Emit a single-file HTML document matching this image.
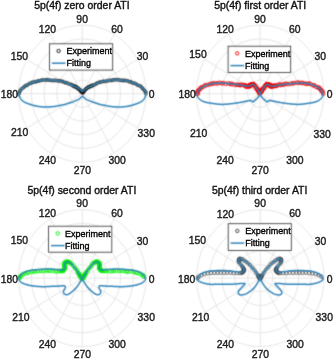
<!DOCTYPE html><html><head><meta charset="utf-8"><style>html,body{margin:0;padding:0;background:#fff;width:334px;height:360px;overflow:hidden}svg{display:block}</style></head><body><svg width="334" height="360" viewBox="0 0 334 360" font-family="&quot;Liberation Sans&quot;, Arial, Helvetica, sans-serif"><defs><filter id="b" x="0" y="0" width="334" height="360" filterUnits="userSpaceOnUse" color-interpolation-filters="sRGB"><feConvolveMatrix order="3" kernelMatrix="1 4 1 4 16 4 1 4 1" divisor="36" edgeMode="duplicate"/></filter></defs><g filter="url(#b)"><rect width="334" height="360" fill="#fff"/><g fill="none" stroke="#e2e2e2" stroke-width="0.9"><ellipse cx="82.3" cy="93.7" rx="12.75" ry="13.71"/><ellipse cx="82.3" cy="93.7" rx="25.50" ry="27.41"/><ellipse cx="82.3" cy="93.7" rx="38.25" ry="41.12"/><ellipse cx="82.3" cy="93.7" rx="51.00" ry="54.82"/><ellipse cx="82.3" cy="93.7" rx="63.75" ry="68.53"/><line x1="146.05" y1="93.70" x2="18.55" y2="93.70"/><line x1="137.51" y1="59.43" x2="27.09" y2="127.97"/><line x1="114.18" y1="34.35" x2="50.42" y2="153.05"/><line x1="82.30" y1="25.17" x2="82.30" y2="162.23"/><line x1="50.43" y1="34.35" x2="114.17" y2="153.05"/><line x1="27.09" y1="59.43" x2="137.51" y2="127.97"/></g><g fill="none" stroke="#141414" stroke-width="0.7"><circle cx="18.62" cy="94.33" r="1.45"/><circle cx="19.11" cy="92.92" r="1.45"/><circle cx="19.92" cy="91.18" r="1.45"/><circle cx="20.35" cy="90.45" r="1.45"/><circle cx="21.56" cy="88.79" r="1.45"/><circle cx="23.17" cy="87.81" r="1.45"/><circle cx="24.25" cy="86.79" r="1.45"/><circle cx="25.43" cy="85.67" r="1.45"/><circle cx="26.72" cy="85.41" r="1.45"/><circle cx="28.02" cy="84.57" r="1.45"/><circle cx="29.57" cy="83.41" r="1.45"/><circle cx="31.11" cy="83.18" r="1.45"/><circle cx="32.27" cy="82.22" r="1.45"/><circle cx="34.14" cy="82.02" r="1.45"/><circle cx="35.50" cy="81.82" r="1.45"/><circle cx="37.01" cy="81.35" r="1.45"/><circle cx="38.36" cy="80.89" r="1.45"/><circle cx="39.97" cy="80.75" r="1.45"/><circle cx="41.82" cy="80.02" r="1.45"/><circle cx="42.85" cy="79.98" r="1.45"/><circle cx="45.00" cy="80.04" r="1.45"/><circle cx="46.34" cy="79.88" r="1.45"/><circle cx="47.81" cy="79.92" r="1.45"/><circle cx="49.21" cy="80.06" r="1.45"/><circle cx="51.01" cy="80.33" r="1.45"/><circle cx="52.58" cy="80.43" r="1.45"/><circle cx="54.23" cy="80.59" r="1.45"/><circle cx="55.60" cy="80.15" r="1.45"/><circle cx="57.33" cy="80.90" r="1.45"/><circle cx="58.94" cy="80.84" r="1.45"/><circle cx="60.33" cy="80.84" r="1.45"/><circle cx="61.91" cy="81.49" r="1.45"/><circle cx="62.98" cy="81.54" r="1.45"/><circle cx="64.75" cy="82.47" r="1.45"/><circle cx="65.66" cy="82.72" r="1.45"/><circle cx="67.30" cy="82.85" r="1.45"/><circle cx="68.64" cy="83.99" r="1.45"/><circle cx="70.48" cy="84.18" r="1.45"/><circle cx="71.60" cy="84.75" r="1.45"/><circle cx="72.73" cy="85.40" r="1.45"/><circle cx="73.72" cy="86.22" r="1.45"/><circle cx="74.17" cy="86.52" r="1.45"/><circle cx="74.65" cy="86.12" r="1.45"/><circle cx="75.46" cy="86.33" r="1.45"/><circle cx="75.76" cy="86.86" r="1.45"/><circle cx="76.58" cy="86.96" r="1.45"/><circle cx="76.75" cy="87.81" r="1.45"/><circle cx="77.55" cy="88.31" r="1.45"/><circle cx="78.60" cy="88.42" r="1.45"/><circle cx="78.82" cy="88.98" r="1.45"/><circle cx="79.40" cy="89.43" r="1.45"/><circle cx="79.76" cy="89.85" r="1.45"/><circle cx="80.44" cy="90.18" r="1.45"/><circle cx="80.40" cy="90.67" r="1.45"/><circle cx="80.58" cy="90.70" r="1.45"/><circle cx="81.33" cy="91.11" r="1.45"/><circle cx="81.27" cy="91.02" r="1.45"/><circle cx="81.42" cy="91.70" r="1.45"/><circle cx="81.37" cy="92.00" r="1.45"/><circle cx="82.07" cy="91.95" r="1.45"/><circle cx="82.31" cy="92.53" r="1.45"/><circle cx="82.57" cy="92.73" r="1.45"/><circle cx="82.84" cy="92.83" r="1.45"/><circle cx="82.58" cy="92.07" r="1.45"/><circle cx="83.30" cy="92.38" r="1.45"/><circle cx="83.23" cy="91.75" r="1.45"/><circle cx="83.71" cy="91.38" r="1.45"/><circle cx="83.79" cy="91.10" r="1.45"/><circle cx="84.09" cy="90.97" r="1.45"/><circle cx="84.28" cy="90.56" r="1.45"/><circle cx="84.93" cy="89.98" r="1.45"/><circle cx="85.19" cy="90.07" r="1.45"/><circle cx="85.43" cy="89.30" r="1.45"/><circle cx="86.21" cy="88.92" r="1.45"/><circle cx="86.31" cy="88.60" r="1.45"/><circle cx="87.29" cy="87.84" r="1.45"/><circle cx="87.62" cy="87.56" r="1.45"/><circle cx="88.54" cy="87.27" r="1.45"/><circle cx="89.17" cy="86.75" r="1.45"/><circle cx="89.38" cy="86.82" r="1.45"/><circle cx="90.37" cy="86.43" r="1.45"/><circle cx="90.52" cy="85.95" r="1.45"/><circle cx="91.45" cy="85.72" r="1.45"/><circle cx="92.53" cy="85.80" r="1.45"/><circle cx="93.07" cy="84.99" r="1.45"/><circle cx="94.67" cy="84.74" r="1.45"/><circle cx="96.05" cy="83.89" r="1.45"/><circle cx="96.99" cy="83.13" r="1.45"/><circle cx="98.88" cy="82.49" r="1.45"/><circle cx="100.00" cy="82.16" r="1.45"/><circle cx="101.46" cy="81.86" r="1.45"/><circle cx="103.27" cy="81.32" r="1.45"/><circle cx="104.15" cy="81.41" r="1.45"/><circle cx="106.33" cy="81.17" r="1.45"/><circle cx="107.59" cy="80.92" r="1.45"/><circle cx="109.52" cy="80.22" r="1.45"/><circle cx="110.89" cy="80.50" r="1.45"/><circle cx="112.36" cy="80.16" r="1.45"/><circle cx="113.60" cy="79.95" r="1.45"/><circle cx="115.20" cy="79.71" r="1.45"/><circle cx="116.95" cy="79.85" r="1.45"/><circle cx="118.65" cy="79.70" r="1.45"/><circle cx="120.29" cy="80.20" r="1.45"/><circle cx="121.88" cy="80.43" r="1.45"/><circle cx="123.41" cy="80.33" r="1.45"/><circle cx="124.34" cy="80.59" r="1.45"/><circle cx="126.07" cy="80.49" r="1.45"/><circle cx="127.91" cy="80.97" r="1.45"/><circle cx="129.27" cy="81.75" r="1.45"/><circle cx="130.86" cy="81.81" r="1.45"/><circle cx="132.07" cy="82.68" r="1.45"/><circle cx="133.71" cy="83.19" r="1.45"/><circle cx="135.10" cy="83.36" r="1.45"/><circle cx="136.65" cy="84.43" r="1.45"/><circle cx="137.85" cy="85.19" r="1.45"/><circle cx="139.68" cy="85.96" r="1.45"/><circle cx="140.97" cy="86.29" r="1.45"/><circle cx="142.06" cy="87.89" r="1.45"/><circle cx="142.79" cy="88.63" r="1.45"/><circle cx="143.95" cy="89.98" r="1.45"/><circle cx="144.98" cy="91.23" r="1.45"/><circle cx="145.90" cy="92.24" r="1.45"/><circle cx="145.82" cy="93.80" r="1.45"/></g><path d="M82.50,91.70 L82.69,91.53 L82.93,91.31 L83.21,91.04 L83.53,90.74 L83.88,90.43 L84.25,90.11 L84.62,89.79 L85.00,89.50 L85.39,89.21 L85.80,88.91 L86.24,88.61 L86.69,88.31 L87.14,88.01 L87.60,87.72 L88.06,87.45 L88.50,87.20 L88.94,86.97 L89.39,86.76 L89.83,86.57 L90.28,86.39 L90.72,86.21 L91.16,86.04 L91.59,85.87 L92.00,85.70 L92.39,85.53 L92.77,85.37 L93.13,85.22 L93.48,85.07 L93.84,84.92 L94.21,84.76 L94.59,84.59 L95.00,84.40 L95.44,84.19 L95.90,83.96 L96.37,83.72 L96.86,83.48 L97.35,83.23 L97.84,83.00 L98.32,82.79 L98.80,82.60 L99.28,82.44 L99.77,82.30 L100.27,82.18 L100.76,82.08 L101.24,81.98 L101.70,81.88 L102.12,81.79 L102.50,81.70 L102.82,81.61 L103.07,81.53 L103.29,81.45 L103.48,81.38 L103.68,81.31 L103.90,81.24 L104.17,81.17 L104.50,81.10 L104.90,81.02 L105.35,80.95 L105.83,80.87 L106.34,80.79 L106.88,80.71 L107.42,80.64 L107.96,80.57 L108.50,80.50 L109.04,80.44 L109.59,80.38 L110.15,80.32 L110.72,80.27 L111.29,80.22 L111.86,80.17 L112.43,80.13 L113.00,80.10 L113.56,80.07 L114.12,80.05 L114.68,80.03 L115.24,80.01 L115.80,80.00 L116.36,80.00 L116.93,80.00 L117.50,80.00 L118.08,80.01 L118.67,80.02 L119.26,80.04 L119.85,80.06 L120.44,80.09 L121.03,80.12 L121.62,80.16 L122.20,80.20 L122.78,80.24 L123.36,80.29 L123.95,80.34 L124.53,80.40 L125.10,80.46 L125.66,80.53 L126.19,80.61 L126.70,80.70 L127.18,80.80 L127.63,80.91 L128.06,81.03 L128.47,81.16 L128.87,81.29 L129.28,81.42 L129.68,81.56 L130.10,81.70 L130.52,81.84 L130.95,81.98 L131.37,82.12 L131.79,82.27 L132.22,82.42 L132.64,82.57 L133.07,82.73 L133.50,82.90 L133.93,83.07 L134.35,83.23 L134.78,83.40 L135.21,83.57 L135.64,83.75 L136.08,83.95 L136.53,84.16 L137.00,84.40 L137.49,84.66 L138.01,84.95 L138.55,85.25 L139.09,85.57 L139.63,85.90 L140.15,86.23 L140.65,86.57 L141.10,86.90 L141.52,87.24 L141.92,87.59 L142.30,87.95 L142.66,88.31 L143.00,88.67 L143.31,89.02 L143.62,89.37 L143.90,89.70 L144.16,90.02 L144.41,90.33 L144.63,90.64 L144.83,90.94 L145.02,91.23 L145.19,91.52 L145.35,91.81 L145.50,92.10 L145.64,92.38 L145.79,92.64 L145.92,92.90 L146.03,93.16 L146.12,93.42 L146.19,93.69 L146.21,93.98 L146.20,94.30 L146.14,94.65 L146.02,95.02 L145.88,95.42 L145.70,95.83 L145.50,96.23 L145.30,96.64 L145.10,97.03 L144.90,97.40 L144.71,97.75 L144.53,98.10 L144.34,98.43 L144.14,98.76 L143.94,99.08 L143.71,99.40 L143.47,99.70 L143.20,100.00 L142.91,100.29 L142.59,100.57 L142.26,100.85 L141.91,101.12 L141.54,101.38 L141.17,101.63 L140.79,101.87 L140.40,102.10 L140.01,102.32 L139.62,102.52 L139.22,102.71 L138.81,102.89 L138.38,103.06 L137.94,103.24 L137.48,103.42 L137.00,103.60 L136.49,103.79 L135.95,103.98 L135.39,104.18 L134.82,104.38 L134.24,104.57 L133.65,104.75 L133.07,104.93 L132.50,105.10 L131.94,105.26 L131.38,105.41 L130.81,105.56 L130.25,105.71 L129.69,105.84 L129.12,105.97 L128.56,106.09 L128.00,106.20 L127.44,106.30 L126.88,106.39 L126.31,106.47 L125.75,106.55 L125.19,106.62 L124.62,106.68 L124.06,106.74 L123.50,106.80 L122.94,106.86 L122.38,106.91 L121.81,106.96 L121.25,107.01 L120.69,107.04 L120.12,107.07 L119.56,107.09 L119.00,107.10 L118.44,107.09 L117.88,107.07 L117.31,107.04 L116.75,106.99 L116.19,106.95 L115.62,106.90 L115.06,106.85 L114.50,106.80 L113.94,106.76 L113.40,106.72 L112.86,106.69 L112.31,106.65 L111.76,106.61 L111.20,106.55 L110.61,106.48 L110.00,106.40 L109.35,106.29 L108.67,106.17 L107.97,106.03 L107.25,105.88 L106.53,105.73 L105.83,105.58 L105.15,105.43 L104.50,105.30 L103.89,105.18 L103.30,105.07 L102.74,104.97 L102.19,104.87 L101.64,104.77 L101.10,104.66 L100.56,104.54 L100.00,104.40 L99.44,104.25 L98.88,104.09 L98.31,103.92 L97.75,103.74 L97.19,103.56 L96.62,103.38 L96.06,103.19 L95.50,103.00 L94.94,102.81 L94.38,102.62 L93.81,102.43 L93.25,102.24 L92.69,102.04 L92.12,101.83 L91.56,101.62 L91.00,101.40 L90.43,101.17 L89.83,100.93 L89.23,100.68 L88.64,100.43 L88.06,100.17 L87.50,99.92 L86.98,99.66 L86.50,99.40 L86.07,99.14 L85.67,98.86 L85.29,98.58 L84.95,98.30 L84.63,98.03 L84.33,97.76 L84.06,97.52 L83.80,97.30 L83.56,97.10 L83.35,96.91 L83.15,96.73 L82.98,96.57 L82.83,96.42 L82.70,96.29 L82.59,96.19 L82.50,96.10 M82.50,91.70 L82.31,91.53 L82.07,91.31 L81.79,91.04 L81.47,90.74 L81.12,90.43 L80.75,90.11 L80.38,89.79 L80.00,89.50 L79.61,89.21 L79.20,88.91 L78.76,88.61 L78.31,88.31 L77.86,88.01 L77.40,87.72 L76.94,87.45 L76.50,87.20 L76.06,86.97 L75.61,86.76 L75.17,86.57 L74.72,86.39 L74.28,86.21 L73.84,86.04 L73.41,85.87 L73.00,85.70 L72.61,85.53 L72.23,85.37 L71.87,85.22 L71.52,85.07 L71.16,84.92 L70.79,84.76 L70.41,84.59 L70.00,84.40 L69.56,84.19 L69.10,83.96 L68.63,83.72 L68.14,83.48 L67.65,83.23 L67.16,83.00 L66.68,82.79 L66.20,82.60 L65.72,82.44 L65.23,82.30 L64.73,82.18 L64.24,82.08 L63.76,81.98 L63.30,81.88 L62.88,81.79 L62.50,81.70 L62.18,81.61 L61.93,81.53 L61.71,81.45 L61.52,81.38 L61.32,81.31 L61.10,81.24 L60.83,81.17 L60.50,81.10 L60.10,81.02 L59.65,80.95 L59.17,80.87 L58.66,80.79 L58.12,80.71 L57.58,80.64 L57.04,80.57 L56.50,80.50 L55.96,80.44 L55.41,80.38 L54.85,80.32 L54.28,80.27 L53.71,80.22 L53.14,80.17 L52.57,80.13 L52.00,80.10 L51.44,80.07 L50.88,80.05 L50.32,80.03 L49.76,80.01 L49.20,80.00 L48.64,80.00 L48.07,80.00 L47.50,80.00 L46.92,80.01 L46.33,80.02 L45.74,80.04 L45.15,80.06 L44.56,80.09 L43.97,80.12 L43.38,80.16 L42.80,80.20 L42.22,80.24 L41.64,80.29 L41.05,80.34 L40.47,80.40 L39.90,80.46 L39.34,80.53 L38.81,80.61 L38.30,80.70 L37.82,80.80 L37.37,80.91 L36.94,81.03 L36.53,81.16 L36.13,81.29 L35.72,81.42 L35.32,81.56 L34.90,81.70 L34.48,81.84 L34.05,81.98 L33.63,82.12 L33.21,82.27 L32.78,82.42 L32.36,82.57 L31.93,82.73 L31.50,82.90 L31.07,83.07 L30.65,83.23 L30.22,83.40 L29.79,83.57 L29.36,83.75 L28.92,83.95 L28.47,84.16 L28.00,84.40 L27.51,84.66 L26.99,84.95 L26.45,85.25 L25.91,85.57 L25.37,85.90 L24.85,86.23 L24.35,86.57 L23.90,86.90 L23.48,87.24 L23.08,87.59 L22.70,87.95 L22.34,88.31 L22.00,88.67 L21.69,89.02 L21.38,89.37 L21.10,89.70 L20.84,90.02 L20.59,90.33 L20.37,90.64 L20.17,90.94 L19.98,91.23 L19.81,91.52 L19.65,91.81 L19.50,92.10 L19.36,92.38 L19.21,92.64 L19.08,92.90 L18.97,93.16 L18.88,93.42 L18.81,93.69 L18.79,93.98 L18.80,94.30 L18.86,94.65 L18.98,95.02 L19.12,95.42 L19.30,95.83 L19.50,96.23 L19.70,96.64 L19.90,97.03 L20.10,97.40 L20.29,97.75 L20.47,98.10 L20.66,98.43 L20.86,98.76 L21.06,99.08 L21.29,99.40 L21.53,99.70 L21.80,100.00 L22.09,100.29 L22.41,100.57 L22.74,100.85 L23.09,101.12 L23.46,101.38 L23.83,101.63 L24.21,101.87 L24.60,102.10 L24.99,102.32 L25.38,102.52 L25.78,102.71 L26.19,102.89 L26.62,103.06 L27.06,103.24 L27.52,103.42 L28.00,103.60 L28.51,103.79 L29.05,103.98 L29.61,104.18 L30.18,104.38 L30.76,104.57 L31.35,104.75 L31.93,104.93 L32.50,105.10 L33.06,105.26 L33.62,105.41 L34.19,105.56 L34.75,105.71 L35.31,105.84 L35.88,105.97 L36.44,106.09 L37.00,106.20 L37.56,106.30 L38.12,106.39 L38.69,106.47 L39.25,106.55 L39.81,106.62 L40.38,106.68 L40.94,106.74 L41.50,106.80 L42.06,106.86 L42.62,106.91 L43.19,106.96 L43.75,107.01 L44.31,107.04 L44.88,107.07 L45.44,107.09 L46.00,107.10 L46.56,107.09 L47.12,107.07 L47.69,107.04 L48.25,106.99 L48.81,106.95 L49.38,106.90 L49.94,106.85 L50.50,106.80 L51.06,106.76 L51.60,106.72 L52.14,106.69 L52.69,106.65 L53.24,106.61 L53.80,106.55 L54.39,106.48 L55.00,106.40 L55.65,106.29 L56.33,106.17 L57.03,106.03 L57.75,105.88 L58.47,105.73 L59.17,105.58 L59.85,105.43 L60.50,105.30 L61.11,105.18 L61.70,105.07 L62.26,104.97 L62.81,104.87 L63.36,104.77 L63.90,104.66 L64.44,104.54 L65.00,104.40 L65.56,104.25 L66.12,104.09 L66.69,103.92 L67.25,103.74 L67.81,103.56 L68.38,103.38 L68.94,103.19 L69.50,103.00 L70.06,102.81 L70.62,102.62 L71.19,102.43 L71.75,102.24 L72.31,102.04 L72.88,101.83 L73.44,101.62 L74.00,101.40 L74.57,101.17 L75.17,100.93 L75.77,100.68 L76.36,100.43 L76.94,100.17 L77.50,99.92 L78.02,99.66 L78.50,99.40 L78.93,99.14 L79.33,98.86 L79.71,98.58 L80.05,98.30 L80.37,98.03 L80.67,97.76 L80.94,97.52 L81.20,97.30 L81.44,97.10 L81.65,96.91 L81.85,96.73 L82.02,96.57 L82.17,96.42 L82.30,96.29 L82.41,96.19 L82.50,96.10" fill="none" stroke="#2f83b9" stroke-width="1.5" stroke-linejoin="round"/><rect x="49.5" y="43.8" width="63.20" height="26.30" fill="#fff" stroke="#2b2b2b" stroke-width="0.8"/><circle cx="58.60" cy="51.00" r="1.7" fill="none" stroke="#141414" stroke-width="0.95"/><line x1="51.90" y1="63.20" x2="65.50" y2="63.20" stroke="#2f83b9" stroke-width="1.5"/><g fill="none" stroke="#e2e2e2" stroke-width="0.9"><ellipse cx="260.1" cy="93.7" rx="12.75" ry="13.71"/><ellipse cx="260.1" cy="93.7" rx="25.50" ry="27.41"/><ellipse cx="260.1" cy="93.7" rx="38.25" ry="41.12"/><ellipse cx="260.1" cy="93.7" rx="51.00" ry="54.82"/><ellipse cx="260.1" cy="93.7" rx="63.75" ry="68.53"/><line x1="323.85" y1="93.70" x2="196.35" y2="93.70"/><line x1="315.31" y1="59.43" x2="204.89" y2="127.97"/><line x1="291.98" y1="34.35" x2="228.23" y2="153.05"/><line x1="260.10" y1="25.17" x2="260.10" y2="162.23"/><line x1="228.23" y1="34.35" x2="291.98" y2="153.05"/><line x1="204.89" y1="59.43" x2="315.31" y2="127.97"/></g><g fill="none" stroke="#f20000" stroke-width="0.85"><circle cx="196.55" cy="93.78" r="1.85"/><circle cx="197.82" cy="93.64" r="1.85"/><circle cx="197.17" cy="92.14" r="1.85"/><circle cx="197.99" cy="90.86" r="1.85"/><circle cx="198.79" cy="90.20" r="1.85"/><circle cx="200.09" cy="88.83" r="1.85"/><circle cx="200.83" cy="87.81" r="1.85"/><circle cx="202.14" cy="87.19" r="1.85"/><circle cx="204.40" cy="86.16" r="1.85"/><circle cx="205.36" cy="85.14" r="1.85"/><circle cx="207.51" cy="85.00" r="1.85"/><circle cx="209.86" cy="84.12" r="1.85"/><circle cx="211.66" cy="83.89" r="1.85"/><circle cx="213.34" cy="83.22" r="1.85"/><circle cx="215.47" cy="83.45" r="1.85"/><circle cx="217.40" cy="83.33" r="1.85"/><circle cx="219.56" cy="82.75" r="1.85"/><circle cx="221.73" cy="83.32" r="1.85"/><circle cx="223.26" cy="83.09" r="1.85"/><circle cx="225.84" cy="83.78" r="1.85"/><circle cx="228.53" cy="83.35" r="1.85"/><circle cx="230.52" cy="84.08" r="1.85"/><circle cx="231.78" cy="83.91" r="1.85"/><circle cx="233.65" cy="84.53" r="1.85"/><circle cx="236.18" cy="84.83" r="1.85"/><circle cx="238.10" cy="84.79" r="1.85"/><circle cx="239.65" cy="84.90" r="1.85"/><circle cx="240.32" cy="85.16" r="1.85"/><circle cx="241.60" cy="84.86" r="1.85"/><circle cx="243.77" cy="84.98" r="1.85"/><circle cx="244.12" cy="85.26" r="1.85"/><circle cx="245.96" cy="85.51" r="1.85"/><circle cx="245.76" cy="86.44" r="1.85"/><circle cx="246.56" cy="86.54" r="1.85"/><circle cx="247.81" cy="86.59" r="1.85"/><circle cx="248.67" cy="86.29" r="1.85"/><circle cx="248.90" cy="85.61" r="1.85"/><circle cx="249.24" cy="86.10" r="1.85"/><circle cx="249.52" cy="85.49" r="1.85"/><circle cx="249.90" cy="86.32" r="1.85"/><circle cx="249.39" cy="85.39" r="1.85"/><circle cx="250.32" cy="85.77" r="1.85"/><circle cx="250.26" cy="84.77" r="1.85"/><circle cx="250.59" cy="85.10" r="1.85"/><circle cx="251.52" cy="84.66" r="1.85"/><circle cx="251.38" cy="84.49" r="1.85"/><circle cx="251.69" cy="84.37" r="1.85"/><circle cx="251.74" cy="84.34" r="1.85"/><circle cx="253.17" cy="84.20" r="1.85"/><circle cx="253.28" cy="83.98" r="1.85"/><circle cx="253.63" cy="84.93" r="1.85"/><circle cx="254.11" cy="85.04" r="1.85"/><circle cx="254.42" cy="85.68" r="1.85"/><circle cx="255.57" cy="85.80" r="1.85"/><circle cx="255.32" cy="87.38" r="1.85"/><circle cx="257.12" cy="88.21" r="1.85"/><circle cx="257.15" cy="89.25" r="1.85"/><circle cx="257.25" cy="89.26" r="1.85"/><circle cx="257.58" cy="90.05" r="1.85"/><circle cx="257.98" cy="89.98" r="1.85"/><circle cx="258.65" cy="91.14" r="1.85"/><circle cx="258.38" cy="91.12" r="1.85"/><circle cx="258.75" cy="91.62" r="1.85"/><circle cx="259.18" cy="91.24" r="1.85"/><circle cx="258.95" cy="91.27" r="1.85"/><circle cx="259.46" cy="92.02" r="1.85"/><circle cx="259.27" cy="92.32" r="1.85"/><circle cx="259.64" cy="93.16" r="1.85"/><circle cx="259.60" cy="93.64" r="1.85"/><circle cx="260.18" cy="92.86" r="1.85"/><circle cx="260.36" cy="92.78" r="1.85"/><circle cx="260.97" cy="92.12" r="1.85"/><circle cx="260.75" cy="92.01" r="1.85"/><circle cx="261.41" cy="91.30" r="1.85"/><circle cx="261.49" cy="91.66" r="1.85"/><circle cx="261.41" cy="90.46" r="1.85"/><circle cx="261.34" cy="90.76" r="1.85"/><circle cx="262.12" cy="90.70" r="1.85"/><circle cx="262.64" cy="89.44" r="1.85"/><circle cx="262.20" cy="88.98" r="1.85"/><circle cx="262.67" cy="88.89" r="1.85"/><circle cx="264.21" cy="88.11" r="1.85"/><circle cx="264.31" cy="87.02" r="1.85"/><circle cx="265.08" cy="85.68" r="1.85"/><circle cx="266.18" cy="84.69" r="1.85"/><circle cx="265.93" cy="85.16" r="1.85"/><circle cx="266.63" cy="84.28" r="1.85"/><circle cx="267.30" cy="84.54" r="1.85"/><circle cx="266.96" cy="84.10" r="1.85"/><circle cx="267.84" cy="84.36" r="1.85"/><circle cx="267.95" cy="84.64" r="1.85"/><circle cx="269.17" cy="84.57" r="1.85"/><circle cx="269.00" cy="84.42" r="1.85"/><circle cx="269.00" cy="85.25" r="1.85"/><circle cx="269.13" cy="85.73" r="1.85"/><circle cx="270.41" cy="85.01" r="1.85"/><circle cx="270.77" cy="85.56" r="1.85"/><circle cx="270.88" cy="86.19" r="1.85"/><circle cx="270.63" cy="86.23" r="1.85"/><circle cx="271.43" cy="86.50" r="1.85"/><circle cx="271.32" cy="86.49" r="1.85"/><circle cx="272.62" cy="86.41" r="1.85"/><circle cx="272.65" cy="85.71" r="1.85"/><circle cx="273.22" cy="85.92" r="1.85"/><circle cx="274.22" cy="86.20" r="1.85"/><circle cx="274.94" cy="85.46" r="1.85"/><circle cx="275.99" cy="85.82" r="1.85"/><circle cx="276.63" cy="85.90" r="1.85"/><circle cx="278.47" cy="84.75" r="1.85"/><circle cx="280.20" cy="84.54" r="1.85"/><circle cx="280.92" cy="85.02" r="1.85"/><circle cx="282.86" cy="84.59" r="1.85"/><circle cx="284.67" cy="84.25" r="1.85"/><circle cx="286.14" cy="83.72" r="1.85"/><circle cx="287.88" cy="84.16" r="1.85"/><circle cx="290.73" cy="83.72" r="1.85"/><circle cx="292.75" cy="83.29" r="1.85"/><circle cx="294.29" cy="83.15" r="1.85"/><circle cx="297.16" cy="82.60" r="1.85"/><circle cx="298.77" cy="82.77" r="1.85"/><circle cx="301.15" cy="82.88" r="1.85"/><circle cx="302.79" cy="83.01" r="1.85"/><circle cx="305.10" cy="83.56" r="1.85"/><circle cx="306.87" cy="83.85" r="1.85"/><circle cx="308.60" cy="83.56" r="1.85"/><circle cx="310.35" cy="83.92" r="1.85"/><circle cx="313.06" cy="85.28" r="1.85"/><circle cx="314.13" cy="85.31" r="1.85"/><circle cx="316.00" cy="86.71" r="1.85"/><circle cx="318.02" cy="87.55" r="1.85"/><circle cx="319.11" cy="87.73" r="1.85"/><circle cx="320.07" cy="88.79" r="1.85"/><circle cx="321.20" cy="90.26" r="1.85"/><circle cx="321.53" cy="90.95" r="1.85"/><circle cx="322.74" cy="91.72" r="1.85"/><circle cx="323.15" cy="93.82" r="1.85"/></g><path d="M260.00,94.10 L260.06,93.98 L260.14,93.82 L260.23,93.63 L260.34,93.41 L260.45,93.18 L260.57,92.95 L260.68,92.72 L260.80,92.50 L260.91,92.29 L261.03,92.07 L261.15,91.85 L261.27,91.63 L261.40,91.40 L261.53,91.17 L261.66,90.94 L261.80,90.70 L261.94,90.46 L262.08,90.21 L262.22,89.96 L262.37,89.71 L262.52,89.46 L262.67,89.20 L262.83,88.95 L263.00,88.70 L263.17,88.45 L263.35,88.19 L263.54,87.93 L263.73,87.68 L263.92,87.42 L264.12,87.17 L264.31,86.93 L264.50,86.70 L264.69,86.48 L264.88,86.25 L265.07,86.04 L265.26,85.83 L265.44,85.62 L265.63,85.43 L265.82,85.26 L266.00,85.10 L266.18,84.95 L266.35,84.81 L266.52,84.68 L266.69,84.56 L266.86,84.46 L267.04,84.38 L267.22,84.33 L267.40,84.30 L267.59,84.31 L267.79,84.34 L267.99,84.40 L268.19,84.49 L268.39,84.58 L268.60,84.69 L268.80,84.80 L269.00,84.90 L269.20,85.01 L269.40,85.14 L269.61,85.28 L269.81,85.42 L270.01,85.56 L270.21,85.69 L270.41,85.81 L270.60,85.90 L270.78,85.98 L270.94,86.04 L271.09,86.09 L271.24,86.13 L271.40,86.16 L271.58,86.18 L271.77,86.20 L272.00,86.20 L272.25,86.19 L272.50,86.18 L272.77,86.15 L273.06,86.12 L273.38,86.08 L273.72,86.02 L274.09,85.97 L274.50,85.90 L274.96,85.82 L275.46,85.73 L275.99,85.63 L276.56,85.53 L277.14,85.41 L277.73,85.30 L278.32,85.20 L278.90,85.10 L279.48,85.01 L280.07,84.91 L280.68,84.82 L281.28,84.73 L281.89,84.64 L282.50,84.56 L283.10,84.48 L283.70,84.40 L284.29,84.33 L284.88,84.26 L285.47,84.20 L286.06,84.14 L286.64,84.08 L287.23,84.02 L287.81,83.96 L288.40,83.90 L288.99,83.84 L289.57,83.77 L290.15,83.70 L290.74,83.64 L291.32,83.57 L291.91,83.51 L292.50,83.45 L293.10,83.40 L293.71,83.35 L294.32,83.30 L294.94,83.26 L295.56,83.22 L296.18,83.18 L296.80,83.15 L297.41,83.12 L298.00,83.10 L298.58,83.08 L299.14,83.07 L299.69,83.06 L300.24,83.06 L300.79,83.06 L301.35,83.06 L301.92,83.08 L302.50,83.10 L303.11,83.13 L303.75,83.16 L304.40,83.19 L305.05,83.24 L305.70,83.29 L306.33,83.35 L306.93,83.42 L307.50,83.50 L308.02,83.59 L308.51,83.70 L308.98,83.81 L309.42,83.94 L309.86,84.07 L310.30,84.21 L310.74,84.35 L311.20,84.50 L311.67,84.65 L312.15,84.81 L312.63,84.97 L313.11,85.14 L313.59,85.32 L314.07,85.51 L314.54,85.70 L315.00,85.90 L315.46,86.11 L315.92,86.33 L316.37,86.56 L316.82,86.79 L317.27,87.04 L317.70,87.29 L318.11,87.54 L318.50,87.80 L318.88,88.07 L319.24,88.34 L319.59,88.63 L319.93,88.92 L320.25,89.21 L320.56,89.51 L320.84,89.80 L321.10,90.10 L321.34,90.40 L321.56,90.71 L321.75,91.02 L321.93,91.33 L322.09,91.64 L322.24,91.94 L322.38,92.23 L322.50,92.50 L322.61,92.75 L322.72,92.98 L322.81,93.20 L322.88,93.41 L322.94,93.62 L322.98,93.84 L323.00,94.06 L323.00,94.30 L322.98,94.56 L322.93,94.82 L322.86,95.10 L322.77,95.37 L322.67,95.66 L322.56,95.94 L322.43,96.22 L322.30,96.50 L322.16,96.78 L322.01,97.05 L321.84,97.33 L321.67,97.61 L321.48,97.89 L321.27,98.16 L321.05,98.43 L320.80,98.70 L320.53,98.96 L320.25,99.23 L319.95,99.49 L319.62,99.75 L319.29,100.00 L318.94,100.25 L318.58,100.48 L318.20,100.70 L317.81,100.91 L317.39,101.11 L316.96,101.30 L316.52,101.48 L316.07,101.65 L315.61,101.81 L315.15,101.96 L314.70,102.10 L314.25,102.23 L313.78,102.35 L313.32,102.46 L312.85,102.56 L312.38,102.65 L311.92,102.74 L311.45,102.82 L311.00,102.90 L310.56,102.98 L310.15,103.04 L309.74,103.10 L309.33,103.16 L308.91,103.21 L308.48,103.27 L308.01,103.33 L307.50,103.40 L306.94,103.48 L306.34,103.57 L305.71,103.67 L305.06,103.76 L304.40,103.86 L303.74,103.95 L303.11,104.03 L302.50,104.10 L301.92,104.16 L301.36,104.21 L300.82,104.26 L300.28,104.31 L299.75,104.34 L299.21,104.37 L298.66,104.39 L298.10,104.40 L297.53,104.40 L296.95,104.39 L296.36,104.37 L295.77,104.35 L295.18,104.32 L294.58,104.28 L293.99,104.24 L293.40,104.20 L292.81,104.15 L292.23,104.10 L291.64,104.04 L291.06,103.98 L290.47,103.91 L289.88,103.84 L289.29,103.77 L288.70,103.70 L288.10,103.63 L287.50,103.56 L286.90,103.49 L286.30,103.42 L285.70,103.34 L285.10,103.27 L284.50,103.19 L283.90,103.10 L283.31,103.01 L282.72,102.92 L282.13,102.82 L281.55,102.72 L280.97,102.62 L280.38,102.52 L279.79,102.41 L279.20,102.30 L278.60,102.18 L277.99,102.06 L277.38,101.93 L276.76,101.80 L276.15,101.67 L275.55,101.54 L274.97,101.42 L274.40,101.30 L273.84,101.18 L273.26,101.06 L272.70,100.94 L272.14,100.82 L271.62,100.71 L271.13,100.62 L270.68,100.55 L270.30,100.50 L269.99,100.48 L269.74,100.48 L269.55,100.50 L269.39,100.53 L269.26,100.58 L269.12,100.64 L268.97,100.72 L268.80,100.80 L268.60,100.91 L268.39,101.06 L268.17,101.22 L267.95,101.40 L267.74,101.57 L267.54,101.72 L267.36,101.83 L267.20,101.90 L267.07,101.92 L266.98,101.91 L266.91,101.86 L266.84,101.80 L266.78,101.72 L266.71,101.62 L266.62,101.51 L266.50,101.40 L266.35,101.28 L266.19,101.14 L266.01,100.98 L265.82,100.81 L265.62,100.64 L265.41,100.46 L265.21,100.28 L265.00,100.10 L264.79,99.92 L264.56,99.74 L264.33,99.55 L264.09,99.36 L263.86,99.17 L263.63,98.98 L263.41,98.79 L263.20,98.60 L263.00,98.41 L262.81,98.22 L262.63,98.03 L262.45,97.84 L262.28,97.66 L262.11,97.47 L261.95,97.28 L261.80,97.10 L261.65,96.92 L261.52,96.74 L261.39,96.56 L261.26,96.38 L261.14,96.21 L261.03,96.03 L260.91,95.86 L260.80,95.70 L260.68,95.53 L260.57,95.36 L260.45,95.18 L260.34,95.01 L260.23,94.85 L260.14,94.71 L260.06,94.59 L260.00,94.50 M260.00,94.10 L259.94,93.98 L259.86,93.82 L259.77,93.63 L259.66,93.41 L259.55,93.18 L259.43,92.95 L259.32,92.72 L259.20,92.50 L259.09,92.29 L258.97,92.07 L258.85,91.85 L258.73,91.63 L258.60,91.40 L258.47,91.17 L258.34,90.94 L258.20,90.70 L258.06,90.46 L257.92,90.21 L257.78,89.96 L257.63,89.71 L257.48,89.46 L257.33,89.20 L257.17,88.95 L257.00,88.70 L256.83,88.45 L256.65,88.19 L256.46,87.93 L256.27,87.68 L256.08,87.42 L255.88,87.17 L255.69,86.93 L255.50,86.70 L255.31,86.48 L255.12,86.25 L254.93,86.04 L254.74,85.83 L254.56,85.62 L254.37,85.43 L254.18,85.26 L254.00,85.10 L253.82,84.95 L253.65,84.81 L253.48,84.68 L253.31,84.56 L253.14,84.46 L252.96,84.38 L252.78,84.33 L252.60,84.30 L252.41,84.31 L252.21,84.34 L252.01,84.40 L251.81,84.49 L251.61,84.58 L251.40,84.69 L251.20,84.80 L251.00,84.90 L250.80,85.01 L250.60,85.14 L250.39,85.28 L250.19,85.42 L249.99,85.56 L249.79,85.69 L249.59,85.81 L249.40,85.90 L249.22,85.98 L249.06,86.04 L248.91,86.09 L248.76,86.13 L248.60,86.16 L248.42,86.18 L248.23,86.20 L248.00,86.20 L247.75,86.19 L247.50,86.18 L247.23,86.15 L246.94,86.12 L246.62,86.08 L246.28,86.02 L245.91,85.97 L245.50,85.90 L245.04,85.82 L244.54,85.73 L244.01,85.63 L243.44,85.53 L242.86,85.41 L242.27,85.30 L241.68,85.20 L241.10,85.10 L240.52,85.01 L239.93,84.91 L239.32,84.82 L238.72,84.73 L238.11,84.64 L237.50,84.56 L236.90,84.48 L236.30,84.40 L235.71,84.33 L235.12,84.26 L234.53,84.20 L233.94,84.14 L233.36,84.08 L232.77,84.02 L232.19,83.96 L231.60,83.90 L231.01,83.84 L230.43,83.77 L229.85,83.70 L229.26,83.64 L228.68,83.57 L228.09,83.51 L227.50,83.45 L226.90,83.40 L226.29,83.35 L225.68,83.30 L225.06,83.26 L224.44,83.22 L223.82,83.18 L223.20,83.15 L222.59,83.12 L222.00,83.10 L221.42,83.08 L220.86,83.07 L220.31,83.06 L219.76,83.06 L219.21,83.06 L218.65,83.06 L218.08,83.08 L217.50,83.10 L216.89,83.13 L216.25,83.16 L215.60,83.19 L214.95,83.24 L214.30,83.29 L213.67,83.35 L213.07,83.42 L212.50,83.50 L211.98,83.59 L211.49,83.70 L211.02,83.81 L210.57,83.94 L210.14,84.07 L209.70,84.21 L209.26,84.35 L208.80,84.50 L208.33,84.65 L207.85,84.81 L207.37,84.97 L206.89,85.14 L206.41,85.32 L205.93,85.51 L205.46,85.70 L205.00,85.90 L204.54,86.11 L204.08,86.33 L203.63,86.56 L203.18,86.79 L202.73,87.04 L202.30,87.29 L201.89,87.54 L201.50,87.80 L201.12,88.07 L200.76,88.34 L200.41,88.63 L200.07,88.92 L199.75,89.21 L199.44,89.51 L199.16,89.80 L198.90,90.10 L198.66,90.40 L198.44,90.71 L198.25,91.02 L198.07,91.33 L197.91,91.64 L197.76,91.94 L197.62,92.23 L197.50,92.50 L197.39,92.75 L197.28,92.98 L197.19,93.20 L197.12,93.41 L197.06,93.62 L197.02,93.84 L197.00,94.06 L197.00,94.30 L197.02,94.56 L197.07,94.82 L197.14,95.10 L197.22,95.37 L197.33,95.66 L197.44,95.94 L197.57,96.22 L197.70,96.50 L197.84,96.78 L197.99,97.05 L198.16,97.33 L198.33,97.61 L198.52,97.89 L198.73,98.16 L198.95,98.43 L199.20,98.70 L199.47,98.96 L199.75,99.23 L200.05,99.49 L200.37,99.75 L200.71,100.00 L201.06,100.25 L201.42,100.48 L201.80,100.70 L202.19,100.91 L202.61,101.11 L203.04,101.30 L203.48,101.48 L203.93,101.65 L204.39,101.81 L204.85,101.96 L205.30,102.10 L205.75,102.23 L206.22,102.35 L206.68,102.46 L207.15,102.56 L207.62,102.65 L208.08,102.74 L208.55,102.82 L209.00,102.90 L209.44,102.98 L209.85,103.04 L210.26,103.10 L210.67,103.16 L211.09,103.21 L211.52,103.27 L211.99,103.33 L212.50,103.40 L213.06,103.48 L213.66,103.57 L214.29,103.67 L214.94,103.76 L215.60,103.86 L216.26,103.95 L216.89,104.03 L217.50,104.10 L218.08,104.16 L218.64,104.21 L219.18,104.26 L219.72,104.31 L220.25,104.34 L220.79,104.37 L221.34,104.39 L221.90,104.40 L222.47,104.40 L223.05,104.39 L223.64,104.37 L224.23,104.35 L224.82,104.32 L225.42,104.28 L226.01,104.24 L226.60,104.20 L227.19,104.15 L227.77,104.10 L228.36,104.04 L228.94,103.98 L229.53,103.91 L230.12,103.84 L230.71,103.77 L231.30,103.70 L231.90,103.63 L232.50,103.56 L233.10,103.49 L233.70,103.42 L234.30,103.34 L234.90,103.27 L235.50,103.19 L236.10,103.10 L236.69,103.01 L237.28,102.92 L237.87,102.82 L238.45,102.72 L239.03,102.62 L239.62,102.52 L240.21,102.41 L240.80,102.30 L241.40,102.18 L242.01,102.06 L242.62,101.93 L243.24,101.80 L243.85,101.67 L244.45,101.54 L245.03,101.42 L245.60,101.30 L246.16,101.18 L246.74,101.06 L247.30,100.94 L247.86,100.82 L248.38,100.71 L248.87,100.62 L249.32,100.55 L249.70,100.50 L250.01,100.48 L250.26,100.48 L250.45,100.50 L250.61,100.53 L250.74,100.58 L250.88,100.64 L251.03,100.72 L251.20,100.80 L251.40,100.91 L251.61,101.06 L251.83,101.22 L252.05,101.40 L252.26,101.57 L252.46,101.72 L252.64,101.83 L252.80,101.90 L252.93,101.92 L253.02,101.91 L253.09,101.86 L253.16,101.80 L253.22,101.72 L253.29,101.62 L253.38,101.51 L253.50,101.40 L253.65,101.28 L253.81,101.14 L253.99,100.98 L254.18,100.81 L254.38,100.64 L254.59,100.46 L254.79,100.28 L255.00,100.10 L255.21,99.92 L255.44,99.74 L255.67,99.55 L255.91,99.36 L256.14,99.17 L256.37,98.98 L256.59,98.79 L256.80,98.60 L257.00,98.41 L257.19,98.22 L257.37,98.03 L257.55,97.84 L257.72,97.66 L257.89,97.47 L258.05,97.28 L258.20,97.10 L258.35,96.92 L258.48,96.74 L258.61,96.56 L258.74,96.38 L258.86,96.21 L258.97,96.03 L259.09,95.86 L259.20,95.70 L259.32,95.53 L259.43,95.36 L259.55,95.18 L259.66,95.01 L259.77,94.85 L259.86,94.71 L259.94,94.59 L260.00,94.50" fill="none" stroke="#2f83b9" stroke-width="1.5" stroke-linejoin="round"/><rect x="228.1" y="46.2" width="62.60" height="26.30" fill="#fff" stroke="#2b2b2b" stroke-width="0.8"/><circle cx="237.20" cy="53.40" r="1.7" fill="none" stroke="#f20000" stroke-width="0.95"/><line x1="230.50" y1="65.60" x2="244.10" y2="65.60" stroke="#2f83b9" stroke-width="1.5"/><g fill="none" stroke="#e2e2e2" stroke-width="0.9"><ellipse cx="82.3" cy="278.1" rx="12.75" ry="13.71"/><ellipse cx="82.3" cy="278.1" rx="25.50" ry="27.41"/><ellipse cx="82.3" cy="278.1" rx="38.25" ry="41.12"/><ellipse cx="82.3" cy="278.1" rx="51.00" ry="54.82"/><ellipse cx="82.3" cy="278.1" rx="63.75" ry="68.53"/><line x1="146.05" y1="278.10" x2="18.55" y2="278.10"/><line x1="137.51" y1="243.83" x2="27.09" y2="312.37"/><line x1="114.18" y1="218.75" x2="50.42" y2="337.45"/><line x1="82.30" y1="209.57" x2="82.30" y2="346.63"/><line x1="50.43" y1="218.75" x2="114.17" y2="337.45"/><line x1="27.09" y1="243.83" x2="137.51" y2="312.37"/></g><g fill="none" stroke="#00f000" stroke-width="0.9"><circle cx="19.71" cy="277.82" r="1.85"/><circle cx="20.05" cy="276.76" r="1.85"/><circle cx="21.09" cy="275.85" r="1.85"/><circle cx="22.65" cy="274.28" r="1.85"/><circle cx="24.92" cy="273.42" r="1.85"/><circle cx="27.02" cy="272.86" r="1.85"/><circle cx="28.89" cy="272.34" r="1.85"/><circle cx="31.66" cy="271.78" r="1.85"/><circle cx="33.94" cy="271.50" r="1.85"/><circle cx="36.11" cy="271.31" r="1.85"/><circle cx="38.32" cy="271.09" r="1.85"/><circle cx="41.07" cy="270.87" r="1.85"/><circle cx="43.39" cy="271.11" r="1.85"/><circle cx="46.02" cy="270.46" r="1.85"/><circle cx="48.36" cy="270.78" r="1.85"/><circle cx="50.20" cy="270.67" r="1.85"/><circle cx="52.66" cy="270.60" r="1.85"/><circle cx="55.28" cy="271.33" r="1.85"/><circle cx="57.38" cy="271.36" r="1.85"/><circle cx="59.39" cy="270.85" r="1.85"/><circle cx="60.94" cy="271.13" r="1.85"/><circle cx="62.07" cy="271.10" r="1.85"/><circle cx="62.66" cy="270.64" r="1.85"/><circle cx="63.18" cy="270.82" r="1.85"/><circle cx="63.60" cy="270.21" r="1.85"/><circle cx="63.84" cy="269.94" r="1.85"/><circle cx="63.68" cy="269.33" r="1.85"/><circle cx="63.93" cy="269.14" r="1.85"/><circle cx="64.23" cy="269.04" r="1.85"/><circle cx="64.80" cy="268.74" r="1.85"/><circle cx="64.75" cy="268.46" r="1.85"/><circle cx="64.75" cy="267.94" r="1.85"/><circle cx="65.08" cy="267.46" r="1.85"/><circle cx="64.58" cy="267.31" r="1.85"/><circle cx="64.80" cy="266.33" r="1.85"/><circle cx="64.43" cy="265.83" r="1.85"/><circle cx="64.57" cy="265.13" r="1.85"/><circle cx="64.20" cy="264.62" r="1.85"/><circle cx="64.83" cy="264.08" r="1.85"/><circle cx="64.73" cy="263.63" r="1.85"/><circle cx="64.72" cy="263.18" r="1.85"/><circle cx="65.07" cy="262.81" r="1.85"/><circle cx="65.08" cy="262.46" r="1.85"/><circle cx="65.51" cy="262.46" r="1.85"/><circle cx="65.80" cy="261.92" r="1.85"/><circle cx="66.51" cy="262.01" r="1.85"/><circle cx="67.13" cy="261.65" r="1.85"/><circle cx="67.42" cy="261.84" r="1.85"/><circle cx="67.75" cy="262.30" r="1.85"/><circle cx="68.60" cy="261.92" r="1.85"/><circle cx="69.58" cy="262.38" r="1.85"/><circle cx="70.62" cy="263.15" r="1.85"/><circle cx="71.62" cy="264.17" r="1.85"/><circle cx="73.53" cy="266.13" r="1.85"/><circle cx="75.10" cy="268.03" r="1.85"/><circle cx="76.72" cy="269.75" r="1.85"/><circle cx="77.50" cy="271.71" r="1.85"/><circle cx="78.46" cy="272.95" r="1.85"/><circle cx="78.73" cy="273.56" r="1.85"/><circle cx="79.45" cy="274.95" r="1.85"/><circle cx="79.73" cy="274.82" r="1.85"/><circle cx="79.60" cy="275.31" r="1.85"/><circle cx="79.89" cy="275.58" r="1.85"/><circle cx="80.00" cy="276.32" r="1.85"/><circle cx="80.84" cy="276.39" r="1.85"/><circle cx="81.14" cy="276.97" r="1.85"/><circle cx="81.21" cy="277.57" r="1.85"/><circle cx="81.55" cy="277.34" r="1.85"/><circle cx="81.35" cy="278.11" r="1.85"/><circle cx="82.01" cy="278.09" r="1.85"/><circle cx="81.79" cy="278.98" r="1.85"/><circle cx="81.86" cy="278.88" r="1.85"/><circle cx="82.24" cy="278.73" r="1.85"/><circle cx="82.85" cy="278.07" r="1.85"/><circle cx="82.94" cy="278.11" r="1.85"/><circle cx="83.25" cy="277.61" r="1.85"/><circle cx="83.56" cy="277.09" r="1.85"/><circle cx="83.39" cy="276.70" r="1.85"/><circle cx="83.90" cy="276.49" r="1.85"/><circle cx="83.79" cy="275.88" r="1.85"/><circle cx="84.29" cy="275.88" r="1.85"/><circle cx="84.48" cy="275.41" r="1.85"/><circle cx="84.60" cy="274.82" r="1.85"/><circle cx="85.10" cy="274.18" r="1.85"/><circle cx="85.41" cy="273.92" r="1.85"/><circle cx="86.15" cy="272.47" r="1.85"/><circle cx="86.47" cy="271.89" r="1.85"/><circle cx="88.04" cy="269.94" r="1.85"/><circle cx="89.75" cy="267.81" r="1.85"/><circle cx="91.27" cy="266.24" r="1.85"/><circle cx="92.37" cy="264.22" r="1.85"/><circle cx="93.45" cy="263.12" r="1.85"/><circle cx="95.01" cy="262.29" r="1.85"/><circle cx="95.52" cy="261.90" r="1.85"/><circle cx="95.89" cy="262.07" r="1.85"/><circle cx="96.59" cy="261.60" r="1.85"/><circle cx="97.03" cy="262.07" r="1.85"/><circle cx="97.77" cy="261.75" r="1.85"/><circle cx="97.97" cy="262.62" r="1.85"/><circle cx="98.32" cy="262.55" r="1.85"/><circle cx="98.78" cy="262.98" r="1.85"/><circle cx="99.17" cy="263.30" r="1.85"/><circle cx="99.33" cy="263.26" r="1.85"/><circle cx="99.24" cy="263.63" r="1.85"/><circle cx="99.81" cy="264.14" r="1.85"/><circle cx="99.33" cy="265.23" r="1.85"/><circle cx="99.49" cy="265.68" r="1.85"/><circle cx="99.37" cy="265.88" r="1.85"/><circle cx="99.33" cy="266.74" r="1.85"/><circle cx="99.45" cy="267.22" r="1.85"/><circle cx="99.48" cy="267.87" r="1.85"/><circle cx="99.21" cy="268.11" r="1.85"/><circle cx="99.38" cy="268.15" r="1.85"/><circle cx="99.80" cy="268.84" r="1.85"/><circle cx="99.99" cy="268.89" r="1.85"/><circle cx="100.04" cy="269.37" r="1.85"/><circle cx="100.46" cy="269.40" r="1.85"/><circle cx="100.48" cy="269.99" r="1.85"/><circle cx="100.62" cy="270.33" r="1.85"/><circle cx="101.47" cy="270.51" r="1.85"/><circle cx="102.00" cy="270.89" r="1.85"/><circle cx="102.47" cy="270.88" r="1.85"/><circle cx="104.17" cy="270.96" r="1.85"/><circle cx="105.22" cy="270.81" r="1.85"/><circle cx="106.80" cy="270.86" r="1.85"/><circle cx="109.55" cy="271.17" r="1.85"/><circle cx="111.91" cy="271.22" r="1.85"/><circle cx="114.05" cy="271.05" r="1.85"/><circle cx="116.42" cy="270.64" r="1.85"/><circle cx="119.15" cy="271.01" r="1.85"/><circle cx="121.51" cy="270.79" r="1.85"/><circle cx="123.72" cy="270.87" r="1.85"/><circle cx="126.19" cy="271.41" r="1.85"/><circle cx="128.02" cy="271.62" r="1.85"/><circle cx="130.34" cy="271.28" r="1.85"/><circle cx="133.08" cy="271.68" r="1.85"/><circle cx="135.21" cy="272.30" r="1.85"/><circle cx="137.16" cy="272.94" r="1.85"/><circle cx="139.62" cy="273.47" r="1.85"/><circle cx="141.76" cy="274.71" r="1.85"/><circle cx="143.51" cy="275.50" r="1.85"/><circle cx="143.95" cy="276.64" r="1.85"/></g><path d="M82.10,279.00 L82.22,278.81 L82.38,278.57 L82.57,278.28 L82.77,277.95 L83.00,277.60 L83.23,277.23 L83.47,276.86 L83.70,276.50 L83.93,276.13 L84.17,275.75 L84.42,275.36 L84.67,274.95 L84.93,274.54 L85.19,274.12 L85.45,273.71 L85.70,273.30 L85.95,272.89 L86.18,272.48 L86.42,272.07 L86.66,271.65 L86.90,271.23 L87.15,270.82 L87.42,270.41 L87.70,270.00 L88.01,269.59 L88.33,269.19 L88.67,268.78 L89.02,268.38 L89.37,267.97 L89.72,267.58 L90.07,267.18 L90.40,266.80 L90.72,266.41 L91.04,266.03 L91.35,265.64 L91.66,265.26 L91.97,264.89 L92.28,264.53 L92.59,264.20 L92.90,263.90 L93.22,263.62 L93.54,263.36 L93.86,263.11 L94.18,262.88 L94.50,262.67 L94.81,262.49 L95.11,262.33 L95.40,262.20 L95.68,262.09 L95.94,262.01 L96.20,261.96 L96.45,261.93 L96.69,261.91 L96.93,261.92 L97.17,261.95 L97.40,262.00 L97.63,262.07 L97.87,262.16 L98.11,262.26 L98.34,262.39 L98.56,262.54 L98.76,262.71 L98.94,262.90 L99.10,263.10 L99.23,263.33 L99.35,263.59 L99.45,263.87 L99.53,264.16 L99.60,264.47 L99.65,264.78 L99.68,265.09 L99.70,265.40 L99.69,265.71 L99.64,266.03 L99.57,266.37 L99.48,266.70 L99.40,267.03 L99.33,267.34 L99.29,267.63 L99.30,267.90 L99.34,268.14 L99.41,268.37 L99.49,268.58 L99.60,268.78 L99.72,268.95 L99.87,269.12 L100.03,269.27 L100.20,269.40 L100.38,269.52 L100.56,269.61 L100.76,269.70 L100.97,269.76 L101.22,269.82 L101.50,269.85 L101.82,269.88 L102.20,269.90 L102.64,269.90 L103.15,269.88 L103.70,269.85 L104.29,269.81 L104.90,269.75 L105.52,269.70 L106.12,269.65 L106.70,269.60 L107.26,269.55 L107.82,269.50 L108.39,269.45 L108.95,269.39 L109.51,269.34 L110.07,269.29 L110.64,269.24 L111.20,269.20 L111.76,269.16 L112.30,269.13 L112.84,269.09 L113.39,269.06 L113.94,269.04 L114.50,269.02 L115.09,269.00 L115.70,269.00 L116.35,269.01 L117.03,269.02 L117.73,269.04 L118.45,269.07 L119.17,269.10 L119.87,269.13 L120.55,269.17 L121.20,269.20 L121.81,269.23 L122.40,269.27 L122.97,269.30 L123.52,269.34 L124.07,269.38 L124.61,269.42 L125.15,269.46 L125.70,269.50 L126.25,269.54 L126.79,269.59 L127.34,269.63 L127.87,269.68 L128.41,269.73 L128.94,269.78 L129.47,269.84 L130.00,269.90 L130.53,269.96 L131.05,270.03 L131.58,270.10 L132.10,270.17 L132.62,270.24 L133.12,270.32 L133.62,270.41 L134.10,270.50 L134.57,270.59 L135.02,270.69 L135.46,270.78 L135.89,270.89 L136.31,271.00 L136.74,271.12 L137.17,271.25 L137.60,271.40 L138.04,271.56 L138.50,271.74 L138.96,271.92 L139.41,272.12 L139.86,272.33 L140.30,272.54 L140.71,272.77 L141.10,273.00 L141.47,273.25 L141.82,273.51 L142.15,273.78 L142.47,274.06 L142.78,274.34 L143.07,274.63 L143.34,274.92 L143.60,275.20 L143.84,275.49 L144.07,275.79 L144.28,276.10 L144.47,276.41 L144.65,276.71 L144.82,277.00 L144.97,277.26 L145.10,277.50 L145.22,277.70 L145.33,277.86 L145.43,278.00 L145.51,278.13 L145.57,278.25 L145.60,278.38 L145.62,278.52 L145.60,278.70 L145.55,278.90 L145.47,279.13 L145.37,279.37 L145.24,279.61 L145.09,279.86 L144.93,280.12 L144.77,280.36 L144.60,280.60 L144.43,280.83 L144.26,281.06 L144.08,281.30 L143.88,281.53 L143.67,281.75 L143.44,281.97 L143.18,282.19 L142.90,282.40 L142.58,282.60 L142.24,282.80 L141.88,283.00 L141.49,283.19 L141.08,283.37 L140.66,283.55 L140.24,283.73 L139.80,283.90 L139.35,284.07 L138.88,284.23 L138.39,284.39 L137.89,284.55 L137.39,284.70 L136.89,284.84 L136.39,284.98 L135.90,285.10 L135.41,285.21 L134.90,285.32 L134.39,285.42 L133.89,285.51 L133.40,285.59 L132.93,285.66 L132.49,285.74 L132.10,285.80 L131.77,285.86 L131.50,285.90 L131.28,285.94 L131.07,285.97 L130.86,286.00 L130.63,286.03 L130.35,286.06 L130.00,286.10 L129.59,286.15 L129.14,286.20 L128.66,286.25 L128.15,286.31 L127.61,286.36 L127.06,286.41 L126.48,286.46 L125.90,286.50 L125.29,286.54 L124.65,286.57 L123.99,286.61 L123.31,286.64 L122.62,286.66 L121.93,286.68 L121.26,286.70 L120.60,286.70 L119.96,286.69 L119.31,286.68 L118.67,286.65 L118.03,286.63 L117.40,286.59 L116.79,286.56 L116.18,286.53 L115.60,286.50 L115.03,286.47 L114.48,286.45 L113.95,286.42 L113.42,286.39 L112.91,286.37 L112.40,286.34 L111.90,286.32 L111.40,286.30 L110.90,286.28 L110.41,286.27 L109.93,286.26 L109.46,286.25 L108.99,286.24 L108.52,286.23 L108.06,286.22 L107.60,286.20 L107.14,286.18 L106.68,286.16 L106.23,286.14 L105.77,286.11 L105.33,286.09 L104.90,286.06 L104.49,286.03 L104.10,286.00 L103.73,285.96 L103.38,285.92 L103.04,285.86 L102.71,285.81 L102.40,285.77 L102.09,285.73 L101.79,285.70 L101.50,285.70 L101.20,285.71 L100.90,285.72 L100.60,285.74 L100.31,285.77 L100.04,285.82 L99.79,285.89 L99.58,285.98 L99.40,286.10 L99.26,286.26 L99.15,286.44 L99.06,286.66 L99.00,286.89 L98.97,287.14 L98.95,287.40 L98.97,287.65 L99.00,287.90 L99.07,288.15 L99.18,288.40 L99.32,288.66 L99.48,288.93 L99.65,289.19 L99.82,289.46 L99.97,289.73 L100.10,290.00 L100.22,290.27 L100.35,290.55 L100.47,290.84 L100.59,291.12 L100.69,291.40 L100.76,291.68 L100.80,291.94 L100.80,292.20 L100.76,292.45 L100.68,292.70 L100.58,292.95 L100.45,293.19 L100.29,293.42 L100.12,293.64 L99.92,293.83 L99.70,294.00 L99.46,294.15 L99.18,294.30 L98.88,294.44 L98.56,294.55 L98.23,294.64 L97.89,294.70 L97.54,294.72 L97.20,294.70 L96.86,294.63 L96.50,294.52 L96.14,294.36 L95.77,294.18 L95.40,293.98 L95.03,293.76 L94.66,293.53 L94.30,293.30 L93.94,293.07 L93.59,292.81 L93.23,292.55 L92.88,292.27 L92.53,291.98 L92.18,291.69 L91.84,291.39 L91.50,291.10 L91.17,290.81 L90.84,290.51 L90.51,290.22 L90.19,289.91 L89.87,289.60 L89.55,289.28 L89.23,288.95 L88.90,288.60 L88.56,288.24 L88.22,287.86 L87.87,287.47 L87.52,287.07 L87.18,286.66 L86.84,286.24 L86.51,285.82 L86.20,285.40 L85.90,284.96 L85.61,284.51 L85.33,284.04 L85.05,283.57 L84.78,283.11 L84.52,282.65 L84.26,282.21 L84.00,281.80 L83.74,281.39 L83.46,280.98 L83.18,280.57 L82.91,280.18 L82.66,279.81 L82.43,279.48 L82.24,279.21 L82.10,279.00 M82.10,279.00 L81.98,278.81 L81.82,278.57 L81.63,278.28 L81.42,277.95 L81.20,277.60 L80.97,277.23 L80.73,276.86 L80.50,276.50 L80.27,276.13 L80.03,275.75 L79.78,275.36 L79.53,274.95 L79.27,274.54 L79.01,274.12 L78.75,273.71 L78.50,273.30 L78.25,272.89 L78.02,272.48 L77.78,272.07 L77.54,271.65 L77.30,271.23 L77.05,270.82 L76.78,270.41 L76.50,270.00 L76.19,269.59 L75.87,269.19 L75.53,268.78 L75.18,268.38 L74.83,267.97 L74.48,267.58 L74.13,267.18 L73.80,266.80 L73.48,266.41 L73.16,266.03 L72.85,265.64 L72.54,265.26 L72.23,264.89 L71.92,264.53 L71.61,264.20 L71.30,263.90 L70.98,263.62 L70.66,263.36 L70.34,263.11 L70.02,262.88 L69.70,262.67 L69.39,262.49 L69.09,262.33 L68.80,262.20 L68.52,262.09 L68.26,262.01 L68.00,261.96 L67.75,261.93 L67.51,261.91 L67.27,261.92 L67.03,261.95 L66.80,262.00 L66.57,262.07 L66.33,262.16 L66.09,262.26 L65.86,262.39 L65.64,262.54 L65.44,262.71 L65.26,262.90 L65.10,263.10 L64.97,263.33 L64.85,263.59 L64.75,263.87 L64.67,264.16 L64.60,264.47 L64.55,264.78 L64.52,265.09 L64.50,265.40 L64.51,265.71 L64.56,266.03 L64.63,266.37 L64.72,266.70 L64.80,267.03 L64.87,267.34 L64.91,267.63 L64.90,267.90 L64.86,268.14 L64.79,268.37 L64.71,268.58 L64.60,268.78 L64.48,268.95 L64.33,269.12 L64.17,269.27 L64.00,269.40 L63.82,269.52 L63.64,269.61 L63.44,269.70 L63.23,269.76 L62.98,269.82 L62.70,269.85 L62.38,269.88 L62.00,269.90 L61.56,269.90 L61.05,269.88 L60.50,269.85 L59.91,269.81 L59.30,269.75 L58.68,269.70 L58.08,269.65 L57.50,269.60 L56.94,269.55 L56.38,269.50 L55.81,269.45 L55.25,269.39 L54.69,269.34 L54.12,269.29 L53.56,269.24 L53.00,269.20 L52.44,269.16 L51.90,269.13 L51.36,269.09 L50.81,269.06 L50.26,269.04 L49.70,269.02 L49.11,269.00 L48.50,269.00 L47.85,269.01 L47.17,269.02 L46.47,269.04 L45.75,269.07 L45.03,269.10 L44.33,269.13 L43.65,269.17 L43.00,269.20 L42.39,269.23 L41.80,269.27 L41.23,269.30 L40.67,269.34 L40.13,269.38 L39.59,269.42 L39.05,269.46 L38.50,269.50 L37.95,269.54 L37.41,269.59 L36.86,269.63 L36.32,269.68 L35.79,269.73 L35.26,269.78 L34.73,269.84 L34.20,269.90 L33.67,269.96 L33.15,270.03 L32.62,270.10 L32.10,270.17 L31.58,270.24 L31.08,270.32 L30.58,270.41 L30.10,270.50 L29.63,270.59 L29.18,270.69 L28.74,270.78 L28.31,270.89 L27.89,271.00 L27.46,271.12 L27.03,271.25 L26.60,271.40 L26.16,271.56 L25.70,271.74 L25.24,271.92 L24.79,272.12 L24.34,272.33 L23.90,272.54 L23.49,272.77 L23.10,273.00 L22.73,273.25 L22.38,273.51 L22.05,273.78 L21.72,274.06 L21.42,274.34 L21.13,274.63 L20.86,274.92 L20.60,275.20 L20.36,275.49 L20.13,275.79 L19.92,276.10 L19.72,276.41 L19.55,276.71 L19.38,277.00 L19.23,277.26 L19.10,277.50 L18.98,277.70 L18.87,277.86 L18.77,278.00 L18.69,278.13 L18.63,278.25 L18.60,278.38 L18.58,278.52 L18.60,278.70 L18.65,278.90 L18.73,279.13 L18.83,279.37 L18.96,279.61 L19.11,279.86 L19.27,280.12 L19.43,280.36 L19.60,280.60 L19.77,280.83 L19.94,281.06 L20.12,281.30 L20.32,281.53 L20.53,281.75 L20.76,281.97 L21.02,282.19 L21.30,282.40 L21.62,282.60 L21.96,282.80 L22.32,283.00 L22.71,283.19 L23.12,283.37 L23.54,283.55 L23.96,283.73 L24.40,283.90 L24.85,284.07 L25.32,284.23 L25.81,284.39 L26.31,284.55 L26.81,284.70 L27.31,284.84 L27.81,284.98 L28.30,285.10 L28.79,285.21 L29.30,285.32 L29.81,285.42 L30.31,285.51 L30.80,285.59 L31.27,285.66 L31.71,285.74 L32.10,285.80 L32.43,285.86 L32.70,285.90 L32.92,285.94 L33.13,285.97 L33.34,286.00 L33.57,286.03 L33.85,286.06 L34.20,286.10 L34.61,286.15 L35.06,286.20 L35.54,286.25 L36.05,286.31 L36.59,286.36 L37.14,286.41 L37.72,286.46 L38.30,286.50 L38.91,286.54 L39.55,286.57 L40.21,286.61 L40.89,286.64 L41.58,286.66 L42.27,286.68 L42.94,286.70 L43.60,286.70 L44.24,286.69 L44.89,286.68 L45.53,286.65 L46.17,286.63 L46.80,286.59 L47.41,286.56 L48.02,286.53 L48.60,286.50 L49.17,286.47 L49.72,286.45 L50.25,286.42 L50.77,286.39 L51.29,286.37 L51.80,286.34 L52.30,286.32 L52.80,286.30 L53.30,286.28 L53.79,286.27 L54.27,286.26 L54.74,286.25 L55.21,286.24 L55.68,286.23 L56.14,286.22 L56.60,286.20 L57.06,286.18 L57.52,286.16 L57.97,286.14 L58.42,286.11 L58.87,286.09 L59.30,286.06 L59.71,286.03 L60.10,286.00 L60.47,285.96 L60.82,285.92 L61.16,285.86 L61.49,285.81 L61.80,285.77 L62.11,285.73 L62.41,285.70 L62.70,285.70 L63.00,285.71 L63.30,285.72 L63.60,285.74 L63.89,285.77 L64.16,285.82 L64.41,285.89 L64.62,285.98 L64.80,286.10 L64.94,286.26 L65.05,286.44 L65.14,286.66 L65.20,286.89 L65.23,287.14 L65.25,287.40 L65.23,287.65 L65.20,287.90 L65.13,288.15 L65.02,288.40 L64.88,288.66 L64.72,288.93 L64.55,289.19 L64.38,289.46 L64.23,289.73 L64.10,290.00 L63.98,290.27 L63.85,290.55 L63.73,290.84 L63.61,291.12 L63.51,291.40 L63.44,291.68 L63.40,291.94 L63.40,292.20 L63.44,292.45 L63.52,292.70 L63.62,292.95 L63.75,293.19 L63.91,293.42 L64.08,293.64 L64.28,293.83 L64.50,294.00 L64.74,294.15 L65.02,294.30 L65.32,294.44 L65.64,294.55 L65.97,294.64 L66.31,294.70 L66.66,294.72 L67.00,294.70 L67.34,294.63 L67.70,294.52 L68.06,294.36 L68.43,294.18 L68.80,293.98 L69.17,293.76 L69.54,293.53 L69.90,293.30 L70.26,293.07 L70.61,292.81 L70.97,292.55 L71.32,292.27 L71.67,291.98 L72.02,291.69 L72.36,291.39 L72.70,291.10 L73.03,290.81 L73.36,290.51 L73.69,290.22 L74.01,289.91 L74.33,289.60 L74.65,289.28 L74.97,288.95 L75.30,288.60 L75.64,288.24 L75.98,287.86 L76.33,287.47 L76.68,287.07 L77.02,286.66 L77.36,286.24 L77.69,285.82 L78.00,285.40 L78.30,284.96 L78.59,284.51 L78.87,284.04 L79.15,283.57 L79.42,283.11 L79.68,282.65 L79.94,282.21 L80.20,281.80 L80.46,281.39 L80.74,280.98 L81.02,280.57 L81.29,280.18 L81.54,279.81 L81.77,279.48 L81.96,279.21 L82.10,279.00" fill="none" stroke="#2f83b9" stroke-width="1.5" stroke-linejoin="round"/><rect x="48.6" y="226.2" width="63.20" height="26.00" fill="#fff" stroke="#2b2b2b" stroke-width="0.8"/><circle cx="57.70" cy="233.40" r="1.7" fill="none" stroke="#00f000" stroke-width="0.95"/><line x1="51.00" y1="245.60" x2="64.60" y2="245.60" stroke="#2f83b9" stroke-width="1.5"/><g fill="none" stroke="#e2e2e2" stroke-width="0.9"><ellipse cx="260.3" cy="278.1" rx="12.75" ry="13.71"/><ellipse cx="260.3" cy="278.1" rx="25.50" ry="27.41"/><ellipse cx="260.3" cy="278.1" rx="38.25" ry="41.12"/><ellipse cx="260.3" cy="278.1" rx="51.00" ry="54.82"/><ellipse cx="260.3" cy="278.1" rx="63.75" ry="68.53"/><line x1="324.05" y1="278.10" x2="196.55" y2="278.10"/><line x1="315.51" y1="243.83" x2="205.09" y2="312.37"/><line x1="292.18" y1="218.75" x2="228.43" y2="337.45"/><line x1="260.30" y1="209.57" x2="260.30" y2="346.63"/><line x1="228.43" y1="218.75" x2="292.18" y2="337.45"/><line x1="205.09" y1="243.83" x2="315.51" y2="312.37"/></g><g fill="none" stroke="#3c3c3c" stroke-width="0.75"><circle cx="197.67" cy="278.17" r="1.7"/><circle cx="198.61" cy="276.64" r="1.7"/><circle cx="201.42" cy="275.11" r="1.7"/><circle cx="204.62" cy="274.11" r="1.7"/><circle cx="207.73" cy="273.29" r="1.7"/><circle cx="211.04" cy="273.05" r="1.7"/><circle cx="214.34" cy="272.90" r="1.7"/><circle cx="217.56" cy="272.91" r="1.7"/><circle cx="220.74" cy="272.77" r="1.7"/><circle cx="224.12" cy="272.89" r="1.7"/><circle cx="227.14" cy="272.76" r="1.7"/><circle cx="230.50" cy="272.76" r="1.7"/><circle cx="233.60" cy="273.04" r="1.7"/><circle cx="237.04" cy="273.03" r="1.7"/><circle cx="239.88" cy="273.06" r="1.7"/><circle cx="241.49" cy="272.90" r="1.7"/><circle cx="242.41" cy="272.64" r="1.7"/><circle cx="242.98" cy="272.01" r="1.7"/><circle cx="243.22" cy="271.53" r="1.7"/><circle cx="243.66" cy="271.13" r="1.7"/><circle cx="243.82" cy="270.65" r="1.7"/><circle cx="243.98" cy="269.93" r="1.7"/><circle cx="243.93" cy="269.39" r="1.7"/><circle cx="243.63" cy="268.40" r="1.7"/><circle cx="242.93" cy="267.44" r="1.7"/><circle cx="242.08" cy="266.17" r="1.7"/><circle cx="240.57" cy="264.35" r="1.7"/><circle cx="239.03" cy="262.32" r="1.7"/><circle cx="238.78" cy="261.25" r="1.7"/><circle cx="238.75" cy="260.32" r="1.7"/><circle cx="239.06" cy="259.35" r="1.7"/><circle cx="239.47" cy="258.70" r="1.7"/><circle cx="240.44" cy="258.72" r="1.7"/><circle cx="242.08" cy="259.14" r="1.7"/><circle cx="243.96" cy="260.39" r="1.7"/><circle cx="246.07" cy="261.71" r="1.7"/><circle cx="247.99" cy="263.29" r="1.7"/><circle cx="250.10" cy="265.21" r="1.7"/><circle cx="252.46" cy="267.93" r="1.7"/><circle cx="254.55" cy="270.34" r="1.7"/><circle cx="256.43" cy="273.02" r="1.7"/><circle cx="258.13" cy="275.43" r="1.7"/><circle cx="258.57" cy="275.98" r="1.7"/><circle cx="258.67" cy="276.63" r="1.7"/><circle cx="258.98" cy="277.26" r="1.7"/><circle cx="259.44" cy="277.91" r="1.7"/><circle cx="259.66" cy="278.21" r="1.7"/><circle cx="259.92" cy="278.92" r="1.7"/><circle cx="260.18" cy="278.67" r="1.7"/><circle cx="260.55" cy="278.26" r="1.7"/><circle cx="260.67" cy="277.59" r="1.7"/><circle cx="261.09" cy="276.89" r="1.7"/><circle cx="261.54" cy="276.49" r="1.7"/><circle cx="261.77" cy="275.74" r="1.7"/><circle cx="262.42" cy="274.81" r="1.7"/><circle cx="264.08" cy="272.27" r="1.7"/><circle cx="266.09" cy="269.45" r="1.7"/><circle cx="268.40" cy="267.14" r="1.7"/><circle cx="270.45" cy="264.57" r="1.7"/><circle cx="272.46" cy="262.73" r="1.7"/><circle cx="274.47" cy="261.44" r="1.7"/><circle cx="276.37" cy="259.93" r="1.7"/><circle cx="278.36" cy="258.83" r="1.7"/><circle cx="279.82" cy="258.68" r="1.7"/><circle cx="280.68" cy="259.01" r="1.7"/><circle cx="281.14" cy="259.44" r="1.7"/><circle cx="281.22" cy="260.50" r="1.7"/><circle cx="281.15" cy="261.26" r="1.7"/><circle cx="280.79" cy="262.54" r="1.7"/><circle cx="279.42" cy="264.30" r="1.7"/><circle cx="277.73" cy="266.41" r="1.7"/><circle cx="276.77" cy="267.68" r="1.7"/><circle cx="276.20" cy="268.72" r="1.7"/><circle cx="276.02" cy="269.43" r="1.7"/><circle cx="275.80" cy="269.93" r="1.7"/><circle cx="276.16" cy="270.62" r="1.7"/><circle cx="276.28" cy="271.35" r="1.7"/><circle cx="276.86" cy="271.61" r="1.7"/><circle cx="277.36" cy="272.21" r="1.7"/><circle cx="277.77" cy="272.48" r="1.7"/><circle cx="278.65" cy="273.08" r="1.7"/><circle cx="280.05" cy="273.05" r="1.7"/><circle cx="283.03" cy="273.01" r="1.7"/><circle cx="286.45" cy="273.15" r="1.7"/><circle cx="289.67" cy="272.81" r="1.7"/><circle cx="293.13" cy="272.99" r="1.7"/><circle cx="296.34" cy="272.72" r="1.7"/><circle cx="299.36" cy="272.92" r="1.7"/><circle cx="302.60" cy="272.87" r="1.7"/><circle cx="305.82" cy="272.75" r="1.7"/><circle cx="309.03" cy="273.15" r="1.7"/><circle cx="312.48" cy="273.43" r="1.7"/><circle cx="315.64" cy="274.04" r="1.7"/><circle cx="318.72" cy="275.01" r="1.7"/><circle cx="321.44" cy="276.52" r="1.7"/></g><path d="M260.00,279.60 L260.13,279.30 L260.30,278.91 L260.50,278.44 L260.72,277.91 L260.97,277.36 L261.24,276.79 L261.51,276.23 L261.80,275.70 L262.10,275.19 L262.43,274.66 L262.77,274.12 L263.13,273.58 L263.50,273.04 L263.87,272.51 L264.24,272.00 L264.60,271.50 L264.96,271.02 L265.32,270.55 L265.68,270.09 L266.04,269.64 L266.41,269.19 L266.77,268.76 L267.14,268.33 L267.50,267.90 L267.86,267.48 L268.22,267.06 L268.57,266.65 L268.93,266.24 L269.29,265.85 L269.65,265.46 L270.02,265.07 L270.40,264.70 L270.79,264.33 L271.18,263.98 L271.58,263.62 L271.99,263.28 L272.39,262.95 L272.80,262.62 L273.20,262.31 L273.60,262.00 L273.99,261.70 L274.39,261.41 L274.78,261.13 L275.17,260.86 L275.56,260.60 L275.94,260.35 L276.32,260.12 L276.70,259.90 L277.08,259.68 L277.47,259.46 L277.86,259.25 L278.25,259.05 L278.62,258.88 L278.98,258.74 L279.31,258.64 L279.60,258.60 L279.86,258.61 L280.11,258.68 L280.33,258.78 L280.53,258.93 L280.71,259.09 L280.86,259.28 L280.99,259.49 L281.10,259.70 L281.18,259.93 L281.25,260.18 L281.29,260.46 L281.31,260.75 L281.31,261.06 L281.27,261.37 L281.20,261.69 L281.10,262.00 L280.95,262.32 L280.76,262.65 L280.54,262.99 L280.28,263.34 L280.01,263.68 L279.73,264.03 L279.46,264.37 L279.20,264.70 L278.94,265.02 L278.67,265.33 L278.39,265.64 L278.11,265.95 L277.83,266.26 L277.57,266.57 L277.32,266.88 L277.10,267.20 L276.89,267.53 L276.68,267.88 L276.48,268.23 L276.29,268.59 L276.13,268.94 L276.01,269.28 L275.93,269.60 L275.90,269.90 L275.92,270.19 L275.99,270.47 L276.09,270.74 L276.23,270.99 L276.41,271.23 L276.61,271.45 L276.84,271.64 L277.10,271.80 L277.39,271.93 L277.71,272.03 L278.07,272.10 L278.46,272.15 L278.87,272.18 L279.30,272.20 L279.74,272.20 L280.20,272.20 L280.68,272.18 L281.19,272.14 L281.72,272.09 L282.26,272.02 L282.82,271.94 L283.38,271.86 L283.94,271.78 L284.50,271.70 L285.05,271.62 L285.60,271.53 L286.15,271.44 L286.71,271.34 L287.27,271.25 L287.84,271.16 L288.41,271.07 L289.00,271.00 L289.59,270.93 L290.19,270.87 L290.79,270.81 L291.41,270.76 L292.03,270.71 L292.67,270.67 L293.32,270.63 L294.00,270.60 L294.71,270.57 L295.45,270.55 L296.22,270.53 L297.00,270.51 L297.78,270.50 L298.55,270.50 L299.29,270.50 L300.00,270.50 L300.69,270.51 L301.37,270.53 L302.04,270.56 L302.69,270.59 L303.32,270.62 L303.91,270.65 L304.48,270.68 L305.00,270.70 L305.47,270.71 L305.88,270.72 L306.25,270.73 L306.60,270.73 L306.93,270.74 L307.27,270.75 L307.62,270.77 L308.00,270.80 L308.40,270.84 L308.82,270.88 L309.24,270.93 L309.66,270.98 L310.09,271.04 L310.53,271.10 L310.96,271.17 L311.40,271.25 L311.84,271.33 L312.30,271.42 L312.76,271.52 L313.22,271.62 L313.69,271.73 L314.14,271.85 L314.58,271.97 L315.00,272.10 L315.41,272.24 L315.80,272.38 L316.19,272.53 L316.56,272.69 L316.93,272.86 L317.29,273.03 L317.65,273.21 L318.00,273.40 L318.35,273.60 L318.70,273.80 L319.04,274.02 L319.38,274.24 L319.71,274.47 L320.02,274.70 L320.32,274.95 L320.60,275.20 L320.86,275.47 L321.11,275.77 L321.34,276.07 L321.56,276.39 L321.76,276.70 L321.95,276.99 L322.13,277.26 L322.30,277.50 L322.46,277.70 L322.62,277.88 L322.77,278.03 L322.90,278.17 L323.01,278.30 L323.11,278.43 L323.17,278.56 L323.20,278.70 L323.20,278.85 L323.17,278.99 L323.11,279.13 L323.03,279.28 L322.93,279.42 L322.80,279.57 L322.66,279.73 L322.50,279.90 L322.32,280.08 L322.13,280.28 L321.91,280.48 L321.68,280.69 L321.42,280.90 L321.14,281.10 L320.83,281.31 L320.50,281.50 L320.14,281.69 L319.75,281.87 L319.33,282.06 L318.89,282.24 L318.43,282.41 L317.96,282.58 L317.48,282.75 L317.00,282.90 L316.51,283.05 L316.00,283.19 L315.48,283.33 L314.94,283.46 L314.41,283.58 L313.87,283.69 L313.33,283.80 L312.80,283.90 L312.27,283.99 L311.75,284.07 L311.22,284.15 L310.69,284.22 L310.16,284.28 L309.64,284.33 L309.12,284.37 L308.60,284.40 L308.10,284.42 L307.63,284.42 L307.17,284.41 L306.71,284.39 L306.24,284.36 L305.74,284.34 L305.19,284.32 L304.60,284.30 L303.95,284.29 L303.24,284.27 L302.50,284.26 L301.73,284.24 L300.94,284.23 L300.15,284.22 L299.36,284.21 L298.60,284.20 L297.84,284.20 L297.07,284.19 L296.29,284.19 L295.51,284.19 L294.75,284.20 L294.00,284.20 L293.28,284.20 L292.60,284.20 L291.95,284.20 L291.33,284.20 L290.72,284.21 L290.14,284.21 L289.58,284.21 L289.04,284.21 L288.51,284.21 L288.00,284.20 L287.51,284.19 L287.05,284.17 L286.62,284.15 L286.19,284.12 L285.78,284.10 L285.36,284.07 L284.94,284.04 L284.50,284.00 L284.05,283.96 L283.59,283.91 L283.13,283.86 L282.67,283.80 L282.20,283.74 L281.74,283.69 L281.27,283.64 L280.80,283.60 L280.32,283.56 L279.81,283.53 L279.30,283.49 L278.79,283.46 L278.30,283.44 L277.83,283.42 L277.39,283.40 L277.00,283.40 L276.64,283.40 L276.31,283.39 L275.99,283.39 L275.71,283.39 L275.46,283.41 L275.25,283.45 L275.10,283.51 L275.00,283.60 L274.96,283.72 L274.98,283.86 L275.05,284.02 L275.16,284.20 L275.31,284.40 L275.49,284.62 L275.69,284.85 L275.90,285.10 L276.14,285.37 L276.43,285.67 L276.75,285.99 L277.10,286.33 L277.46,286.67 L277.82,287.02 L278.17,287.36 L278.50,287.70 L278.83,288.04 L279.17,288.38 L279.52,288.72 L279.86,289.07 L280.19,289.41 L280.50,289.75 L280.77,290.08 L281.00,290.40 L281.19,290.71 L281.36,291.01 L281.51,291.31 L281.62,291.61 L281.71,291.89 L281.77,292.17 L281.80,292.44 L281.80,292.70 L281.76,292.96 L281.69,293.22 L281.59,293.47 L281.46,293.72 L281.31,293.95 L281.12,294.16 L280.92,294.35 L280.70,294.50 L280.45,294.63 L280.18,294.73 L279.87,294.81 L279.55,294.86 L279.21,294.90 L278.85,294.92 L278.48,294.92 L278.10,294.90 L277.70,294.86 L277.28,294.81 L276.84,294.73 L276.38,294.63 L275.92,294.52 L275.47,294.39 L275.02,294.25 L274.60,294.10 L274.19,293.93 L273.80,293.75 L273.41,293.55 L273.03,293.34 L272.64,293.11 L272.27,292.88 L271.88,292.64 L271.50,292.40 L271.11,292.15 L270.72,291.90 L270.32,291.64 L269.93,291.37 L269.54,291.09 L269.15,290.80 L268.77,290.51 L268.40,290.20 L268.03,289.88 L267.67,289.55 L267.31,289.21 L266.95,288.86 L266.60,288.50 L266.26,288.14 L265.92,287.77 L265.60,287.40 L265.29,287.03 L264.98,286.65 L264.68,286.26 L264.39,285.88 L264.11,285.48 L263.84,285.09 L263.56,284.69 L263.30,284.30 L263.04,283.90 L262.79,283.48 L262.54,283.05 L262.29,282.63 L262.06,282.22 L261.83,281.82 L261.61,281.44 L261.40,281.10 L261.19,280.78 L260.98,280.47 L260.78,280.17 L260.58,279.90 L260.40,279.65 L260.24,279.43 L260.10,279.25 L260.00,279.10 M260.00,279.60 L259.87,279.30 L259.70,278.91 L259.50,278.44 L259.28,277.91 L259.03,277.36 L258.76,276.79 L258.49,276.23 L258.20,275.70 L257.90,275.19 L257.57,274.66 L257.23,274.12 L256.87,273.58 L256.50,273.04 L256.13,272.51 L255.76,272.00 L255.40,271.50 L255.04,271.02 L254.68,270.55 L254.32,270.09 L253.96,269.64 L253.59,269.19 L253.23,268.76 L252.86,268.33 L252.50,267.90 L252.14,267.48 L251.78,267.06 L251.43,266.65 L251.07,266.24 L250.71,265.85 L250.35,265.46 L249.98,265.07 L249.60,264.70 L249.21,264.33 L248.82,263.98 L248.42,263.62 L248.01,263.28 L247.61,262.95 L247.20,262.62 L246.80,262.31 L246.40,262.00 L246.01,261.70 L245.61,261.41 L245.22,261.13 L244.83,260.86 L244.44,260.60 L244.06,260.35 L243.68,260.12 L243.30,259.90 L242.92,259.68 L242.53,259.46 L242.14,259.25 L241.75,259.05 L241.38,258.88 L241.02,258.74 L240.69,258.64 L240.40,258.60 L240.14,258.61 L239.89,258.68 L239.67,258.78 L239.47,258.93 L239.29,259.09 L239.14,259.28 L239.01,259.49 L238.90,259.70 L238.82,259.93 L238.75,260.18 L238.71,260.46 L238.69,260.75 L238.69,261.06 L238.73,261.37 L238.80,261.69 L238.90,262.00 L239.05,262.32 L239.24,262.65 L239.46,262.99 L239.72,263.34 L239.99,263.68 L240.27,264.03 L240.54,264.37 L240.80,264.70 L241.06,265.02 L241.33,265.33 L241.61,265.64 L241.89,265.95 L242.17,266.26 L242.43,266.57 L242.68,266.88 L242.90,267.20 L243.11,267.53 L243.32,267.88 L243.52,268.23 L243.71,268.59 L243.87,268.94 L243.99,269.28 L244.07,269.60 L244.10,269.90 L244.08,270.19 L244.01,270.47 L243.91,270.74 L243.77,270.99 L243.59,271.23 L243.39,271.45 L243.16,271.64 L242.90,271.80 L242.61,271.93 L242.29,272.03 L241.93,272.10 L241.54,272.15 L241.13,272.18 L240.70,272.20 L240.26,272.20 L239.80,272.20 L239.32,272.18 L238.81,272.14 L238.28,272.09 L237.74,272.02 L237.18,271.94 L236.62,271.86 L236.06,271.78 L235.50,271.70 L234.95,271.62 L234.40,271.53 L233.85,271.44 L233.29,271.34 L232.73,271.25 L232.16,271.16 L231.59,271.07 L231.00,271.00 L230.41,270.93 L229.81,270.87 L229.21,270.81 L228.59,270.76 L227.97,270.71 L227.33,270.67 L226.68,270.63 L226.00,270.60 L225.29,270.57 L224.55,270.55 L223.78,270.53 L223.00,270.51 L222.22,270.50 L221.45,270.50 L220.71,270.50 L220.00,270.50 L219.31,270.51 L218.63,270.53 L217.96,270.56 L217.31,270.59 L216.68,270.62 L216.09,270.65 L215.52,270.68 L215.00,270.70 L214.53,270.71 L214.12,270.72 L213.75,270.73 L213.40,270.73 L213.07,270.74 L212.73,270.75 L212.38,270.77 L212.00,270.80 L211.60,270.84 L211.18,270.88 L210.76,270.93 L210.34,270.98 L209.91,271.04 L209.47,271.10 L209.04,271.17 L208.60,271.25 L208.16,271.33 L207.70,271.42 L207.24,271.52 L206.78,271.62 L206.31,271.73 L205.86,271.85 L205.42,271.97 L205.00,272.10 L204.59,272.24 L204.20,272.38 L203.81,272.53 L203.44,272.69 L203.07,272.86 L202.71,273.03 L202.35,273.21 L202.00,273.40 L201.65,273.60 L201.30,273.80 L200.96,274.02 L200.62,274.24 L200.29,274.47 L199.98,274.70 L199.68,274.95 L199.40,275.20 L199.14,275.47 L198.89,275.77 L198.66,276.07 L198.44,276.39 L198.24,276.70 L198.05,276.99 L197.87,277.26 L197.70,277.50 L197.54,277.70 L197.38,277.88 L197.23,278.03 L197.10,278.17 L196.99,278.30 L196.89,278.43 L196.83,278.56 L196.80,278.70 L196.80,278.85 L196.83,278.99 L196.89,279.13 L196.97,279.28 L197.07,279.42 L197.20,279.57 L197.34,279.73 L197.50,279.90 L197.68,280.08 L197.87,280.28 L198.09,280.48 L198.32,280.69 L198.58,280.90 L198.86,281.10 L199.17,281.31 L199.50,281.50 L199.86,281.69 L200.25,281.87 L200.67,282.06 L201.11,282.24 L201.57,282.41 L202.04,282.58 L202.52,282.75 L203.00,282.90 L203.49,283.05 L204.00,283.19 L204.52,283.33 L205.06,283.46 L205.59,283.58 L206.13,283.69 L206.67,283.80 L207.20,283.90 L207.73,283.99 L208.25,284.07 L208.78,284.15 L209.31,284.22 L209.84,284.28 L210.36,284.33 L210.88,284.37 L211.40,284.40 L211.90,284.42 L212.37,284.42 L212.83,284.41 L213.29,284.39 L213.76,284.36 L214.26,284.34 L214.81,284.32 L215.40,284.30 L216.05,284.29 L216.76,284.27 L217.50,284.26 L218.27,284.24 L219.06,284.23 L219.85,284.22 L220.64,284.21 L221.40,284.20 L222.16,284.20 L222.93,284.19 L223.71,284.19 L224.49,284.19 L225.25,284.20 L226.00,284.20 L226.72,284.20 L227.40,284.20 L228.05,284.20 L228.67,284.20 L229.28,284.21 L229.86,284.21 L230.42,284.21 L230.96,284.21 L231.49,284.21 L232.00,284.20 L232.49,284.19 L232.95,284.17 L233.38,284.15 L233.81,284.12 L234.22,284.10 L234.64,284.07 L235.06,284.04 L235.50,284.00 L235.95,283.96 L236.41,283.91 L236.87,283.86 L237.33,283.80 L237.80,283.74 L238.26,283.69 L238.73,283.64 L239.20,283.60 L239.68,283.56 L240.19,283.53 L240.70,283.49 L241.21,283.46 L241.70,283.44 L242.17,283.42 L242.61,283.40 L243.00,283.40 L243.36,283.40 L243.69,283.39 L244.01,283.39 L244.29,283.39 L244.54,283.41 L244.75,283.45 L244.90,283.51 L245.00,283.60 L245.04,283.72 L245.02,283.86 L244.95,284.02 L244.84,284.20 L244.69,284.40 L244.51,284.62 L244.31,284.85 L244.10,285.10 L243.86,285.37 L243.57,285.67 L243.25,285.99 L242.90,286.33 L242.54,286.67 L242.18,287.02 L241.83,287.36 L241.50,287.70 L241.17,288.04 L240.83,288.38 L240.48,288.72 L240.14,289.07 L239.81,289.41 L239.50,289.75 L239.23,290.08 L239.00,290.40 L238.81,290.71 L238.64,291.01 L238.49,291.31 L238.38,291.61 L238.29,291.89 L238.23,292.17 L238.20,292.44 L238.20,292.70 L238.24,292.96 L238.31,293.22 L238.41,293.47 L238.54,293.72 L238.69,293.95 L238.87,294.16 L239.08,294.35 L239.30,294.50 L239.55,294.63 L239.82,294.73 L240.13,294.81 L240.45,294.86 L240.79,294.90 L241.15,294.92 L241.52,294.92 L241.90,294.90 L242.30,294.86 L242.72,294.81 L243.16,294.73 L243.62,294.63 L244.08,294.52 L244.53,294.39 L244.98,294.25 L245.40,294.10 L245.81,293.93 L246.20,293.75 L246.59,293.55 L246.97,293.34 L247.36,293.11 L247.73,292.88 L248.12,292.64 L248.50,292.40 L248.89,292.15 L249.28,291.90 L249.68,291.64 L250.07,291.37 L250.46,291.09 L250.85,290.80 L251.23,290.51 L251.60,290.20 L251.97,289.88 L252.33,289.55 L252.69,289.21 L253.05,288.86 L253.40,288.50 L253.74,288.14 L254.08,287.77 L254.40,287.40 L254.71,287.03 L255.02,286.65 L255.32,286.26 L255.61,285.88 L255.89,285.48 L256.16,285.09 L256.44,284.69 L256.70,284.30 L256.96,283.90 L257.21,283.48 L257.46,283.05 L257.71,282.63 L257.94,282.22 L258.17,281.82 L258.39,281.44 L258.60,281.10 L258.81,280.78 L259.02,280.47 L259.22,280.17 L259.42,279.90 L259.60,279.65 L259.76,279.43 L259.90,279.25 L260.00,279.10" fill="none" stroke="#2f83b9" stroke-width="1.5" stroke-linejoin="round"/><rect x="228.2" y="223.7" width="63.10" height="26.80" fill="#fff" stroke="#2b2b2b" stroke-width="0.8"/><circle cx="237.30" cy="230.90" r="1.7" fill="none" stroke="#3c3c3c" stroke-width="0.95"/><line x1="230.60" y1="243.10" x2="244.20" y2="243.10" stroke="#2f83b9" stroke-width="1.5"/></g><text transform="translate(151.75,98.25) scale(1,1.075)" font-size="10.4" text-anchor="middle" fill="#1e1e1e" stroke="#1e1e1e" stroke-width="0.4">0</text><text transform="translate(142.45,59.85) scale(1,1.075)" font-size="10.4" text-anchor="middle" fill="#1e1e1e" stroke="#1e1e1e" stroke-width="0.4">30</text><text transform="translate(117.00,33.00) scale(1,1.075)" font-size="10.4" text-anchor="middle" fill="#1e1e1e" stroke="#1e1e1e" stroke-width="0.4">60</text><text transform="translate(82.15,22.70) scale(1,1.075)" font-size="10.4" text-anchor="middle" fill="#1e1e1e" stroke="#1e1e1e" stroke-width="0.4">90</text><text transform="translate(47.40,33.10) scale(1,1.075)" font-size="10.4" text-anchor="middle" fill="#1e1e1e" stroke="#1e1e1e" stroke-width="0.4">120</text><text transform="translate(19.30,59.85) scale(1,1.075)" font-size="10.4" text-anchor="middle" fill="#1e1e1e" stroke="#1e1e1e" stroke-width="0.4">150</text><text transform="translate(9.40,98.45) scale(1,1.075)" font-size="10.4" text-anchor="middle" fill="#1e1e1e" stroke="#1e1e1e" stroke-width="0.4">180</text><text transform="translate(19.65,136.45) scale(1,1.075)" font-size="10.4" text-anchor="middle" fill="#1e1e1e" stroke="#1e1e1e" stroke-width="0.4">210</text><text transform="translate(47.40,163.95) scale(1,1.075)" font-size="10.4" text-anchor="middle" fill="#1e1e1e" stroke="#1e1e1e" stroke-width="0.4">240</text><text transform="translate(82.35,173.80) scale(1,1.075)" font-size="10.4" text-anchor="middle" fill="#1e1e1e" stroke="#1e1e1e" stroke-width="0.4">270</text><text transform="translate(117.05,163.95) scale(1,1.075)" font-size="10.4" text-anchor="middle" fill="#1e1e1e" stroke="#1e1e1e" stroke-width="0.4">300</text><text transform="translate(146.25,137.05) scale(1,1.075)" font-size="10.4" text-anchor="middle" fill="#1e1e1e" stroke="#1e1e1e" stroke-width="0.4">330</text><text transform="translate(81.90,9.30) scale(1,1.075)" font-size="10.45" text-anchor="middle" fill="#111" stroke="#111" stroke-width="0.38">5p(4f) zero order ATI</text><text transform="translate(66.60,54.36) scale(1,1.075)" font-size="9.0" text-anchor="start" fill="#000" stroke="#000" stroke-width="0.35">Experiment</text><text transform="translate(66.60,66.46) scale(1,1.075)" font-size="9.0" text-anchor="start" fill="#000" stroke="#000" stroke-width="0.35">Fitting</text><text transform="translate(329.55,98.25) scale(1,1.075)" font-size="10.4" text-anchor="middle" fill="#1e1e1e" stroke="#1e1e1e" stroke-width="0.4">0</text><text transform="translate(320.25,59.85) scale(1,1.075)" font-size="10.4" text-anchor="middle" fill="#1e1e1e" stroke="#1e1e1e" stroke-width="0.4">30</text><text transform="translate(294.80,33.00) scale(1,1.075)" font-size="10.4" text-anchor="middle" fill="#1e1e1e" stroke="#1e1e1e" stroke-width="0.4">60</text><text transform="translate(259.95,22.70) scale(1,1.075)" font-size="10.4" text-anchor="middle" fill="#1e1e1e" stroke="#1e1e1e" stroke-width="0.4">90</text><text transform="translate(225.20,33.10) scale(1,1.075)" font-size="10.4" text-anchor="middle" fill="#1e1e1e" stroke="#1e1e1e" stroke-width="0.4">120</text><text transform="translate(198.00,58.20) scale(1,1.075)" font-size="10.4" text-anchor="middle" fill="#1e1e1e" stroke="#1e1e1e" stroke-width="0.4">150</text><text transform="translate(187.20,98.45) scale(1,1.075)" font-size="10.4" text-anchor="middle" fill="#1e1e1e" stroke="#1e1e1e" stroke-width="0.4">180</text><text transform="translate(198.60,136.60) scale(1,1.075)" font-size="10.4" text-anchor="middle" fill="#1e1e1e" stroke="#1e1e1e" stroke-width="0.4">210</text><text transform="translate(225.20,163.95) scale(1,1.075)" font-size="10.4" text-anchor="middle" fill="#1e1e1e" stroke="#1e1e1e" stroke-width="0.4">240</text><text transform="translate(260.15,173.80) scale(1,1.075)" font-size="10.4" text-anchor="middle" fill="#1e1e1e" stroke="#1e1e1e" stroke-width="0.4">270</text><text transform="translate(294.85,163.95) scale(1,1.075)" font-size="10.4" text-anchor="middle" fill="#1e1e1e" stroke="#1e1e1e" stroke-width="0.4">300</text><text transform="translate(322.20,137.95) scale(1,1.075)" font-size="10.4" text-anchor="middle" fill="#1e1e1e" stroke="#1e1e1e" stroke-width="0.4">330</text><text transform="translate(260.20,9.30) scale(1,1.075)" font-size="10.45" text-anchor="middle" fill="#111" stroke="#111" stroke-width="0.38">5p(4f) first order ATI</text><text transform="translate(244.90,56.76) scale(1,1.075)" font-size="9.0" text-anchor="start" fill="#000" stroke="#000" stroke-width="0.35">Experiment</text><text transform="translate(244.90,68.86) scale(1,1.075)" font-size="9.0" text-anchor="start" fill="#000" stroke="#000" stroke-width="0.35">Fitting</text><text transform="translate(151.75,282.65) scale(1,1.075)" font-size="10.4" text-anchor="middle" fill="#1e1e1e" stroke="#1e1e1e" stroke-width="0.4">0</text><text transform="translate(142.45,244.85) scale(1,1.075)" font-size="10.4" text-anchor="middle" fill="#1e1e1e" stroke="#1e1e1e" stroke-width="0.4">30</text><text transform="translate(117.00,217.40) scale(1,1.075)" font-size="10.4" text-anchor="middle" fill="#1e1e1e" stroke="#1e1e1e" stroke-width="0.4">60</text><text transform="translate(82.15,207.10) scale(1,1.075)" font-size="10.4" text-anchor="middle" fill="#1e1e1e" stroke="#1e1e1e" stroke-width="0.4">90</text><text transform="translate(47.40,216.90) scale(1,1.075)" font-size="10.4" text-anchor="middle" fill="#1e1e1e" stroke="#1e1e1e" stroke-width="0.4">120</text><text transform="translate(19.30,244.25) scale(1,1.075)" font-size="10.4" text-anchor="middle" fill="#1e1e1e" stroke="#1e1e1e" stroke-width="0.4">150</text><text transform="translate(9.40,282.85) scale(1,1.075)" font-size="10.4" text-anchor="middle" fill="#1e1e1e" stroke="#1e1e1e" stroke-width="0.4">180</text><text transform="translate(20.90,320.85) scale(1,1.075)" font-size="10.4" text-anchor="middle" fill="#1e1e1e" stroke="#1e1e1e" stroke-width="0.4">210</text><text transform="translate(47.40,348.35) scale(1,1.075)" font-size="10.4" text-anchor="middle" fill="#1e1e1e" stroke="#1e1e1e" stroke-width="0.4">240</text><text transform="translate(82.35,358.20) scale(1,1.075)" font-size="10.4" text-anchor="middle" fill="#1e1e1e" stroke="#1e1e1e" stroke-width="0.4">270</text><text transform="translate(117.05,348.35) scale(1,1.075)" font-size="10.4" text-anchor="middle" fill="#1e1e1e" stroke="#1e1e1e" stroke-width="0.4">300</text><text transform="translate(146.25,321.45) scale(1,1.075)" font-size="10.4" text-anchor="middle" fill="#1e1e1e" stroke="#1e1e1e" stroke-width="0.4">330</text><text transform="translate(81.90,193.60) scale(1,1.075)" font-size="10.45" text-anchor="middle" fill="#111" stroke="#111" stroke-width="0.38">5p(4f) second order ATI</text><text transform="translate(65.00,236.76) scale(1,1.075)" font-size="9.0" text-anchor="start" fill="#000" stroke="#000" stroke-width="0.35">Experiment</text><text transform="translate(65.00,248.86) scale(1,1.075)" font-size="9.0" text-anchor="start" fill="#000" stroke="#000" stroke-width="0.35">Fitting</text><text transform="translate(329.75,282.65) scale(1,1.075)" font-size="10.4" text-anchor="middle" fill="#1e1e1e" stroke="#1e1e1e" stroke-width="0.4">0</text><text transform="translate(320.45,245.05) scale(1,1.075)" font-size="10.4" text-anchor="middle" fill="#1e1e1e" stroke="#1e1e1e" stroke-width="0.4">30</text><text transform="translate(295.00,217.40) scale(1,1.075)" font-size="10.4" text-anchor="middle" fill="#1e1e1e" stroke="#1e1e1e" stroke-width="0.4">60</text><text transform="translate(260.15,207.10) scale(1,1.075)" font-size="10.4" text-anchor="middle" fill="#1e1e1e" stroke="#1e1e1e" stroke-width="0.4">90</text><text transform="translate(225.40,217.50) scale(1,1.075)" font-size="10.4" text-anchor="middle" fill="#1e1e1e" stroke="#1e1e1e" stroke-width="0.4">120</text><text transform="translate(197.30,244.25) scale(1,1.075)" font-size="10.4" text-anchor="middle" fill="#1e1e1e" stroke="#1e1e1e" stroke-width="0.4">150</text><text transform="translate(186.60,283.35) scale(1,1.075)" font-size="10.4" text-anchor="middle" fill="#1e1e1e" stroke="#1e1e1e" stroke-width="0.4">180</text><text transform="translate(200.60,320.60) scale(1,1.075)" font-size="10.4" text-anchor="middle" fill="#1e1e1e" stroke="#1e1e1e" stroke-width="0.4">210</text><text transform="translate(225.40,348.35) scale(1,1.075)" font-size="10.4" text-anchor="middle" fill="#1e1e1e" stroke="#1e1e1e" stroke-width="0.4">240</text><text transform="translate(260.35,358.20) scale(1,1.075)" font-size="10.4" text-anchor="middle" fill="#1e1e1e" stroke="#1e1e1e" stroke-width="0.4">270</text><text transform="translate(295.05,348.35) scale(1,1.075)" font-size="10.4" text-anchor="middle" fill="#1e1e1e" stroke="#1e1e1e" stroke-width="0.4">300</text><text transform="translate(324.25,321.45) scale(1,1.075)" font-size="10.4" text-anchor="middle" fill="#1e1e1e" stroke="#1e1e1e" stroke-width="0.4">330</text><text transform="translate(259.60,193.60) scale(1,1.075)" font-size="10.45" text-anchor="middle" fill="#111" stroke="#111" stroke-width="0.38">5p(4f) third order ATI</text><text transform="translate(245.30,234.26) scale(1,1.075)" font-size="9.0" text-anchor="start" fill="#000" stroke="#000" stroke-width="0.35">Experiment</text><text transform="translate(245.30,246.36) scale(1,1.075)" font-size="9.0" text-anchor="start" fill="#000" stroke="#000" stroke-width="0.35">Fitting</text></svg></body></html>
